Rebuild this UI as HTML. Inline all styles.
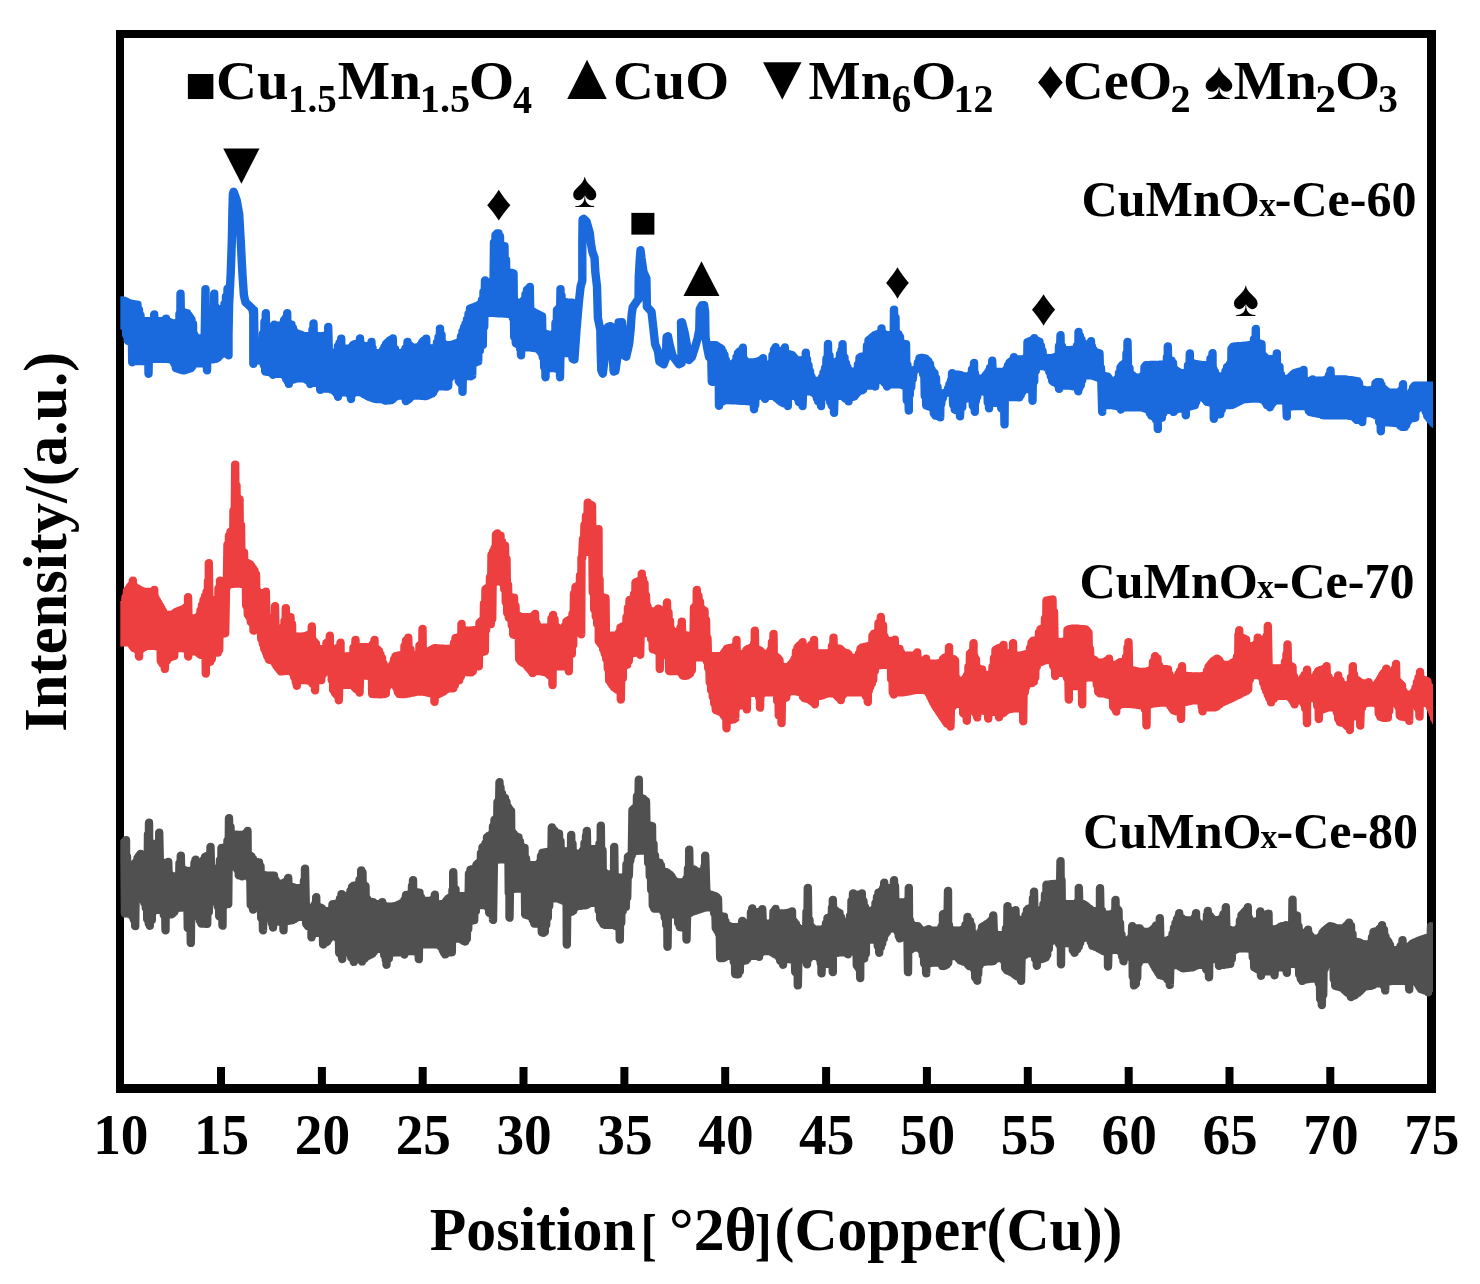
<!DOCTYPE html>
<html><head><meta charset="utf-8"><title>XRD patterns</title>
<style>
html,body{margin:0;padding:0;background:#fff}
svg{display:block}
text{font-family:"Liberation Serif",serif;font-weight:bold;fill:#000}
</style></head><body>
<svg width="1480" height="1284" viewBox="0 0 1480 1284">
<rect x="0" y="0" width="1480" height="1284" fill="#fff"/>
<g fill="#000"><rect x="116" y="30" width="8" height="1063"/><rect x="116" y="30" width="1320" height="8"/><rect x="1427" y="30" width="9" height="1063"/><rect x="116" y="1084" width="1320" height="9"/><rect x="217.0" y="1067" width="8" height="18"/><rect x="317.9" y="1067" width="8" height="18"/><rect x="418.7" y="1067" width="8" height="18"/><rect x="519.5" y="1067" width="8" height="18"/><rect x="620.4" y="1067" width="8" height="18"/><rect x="721.2" y="1067" width="8" height="18"/><rect x="822.1" y="1067" width="8" height="18"/><rect x="922.9" y="1067" width="8" height="18"/><rect x="1023.8" y="1067" width="8" height="18"/><rect x="1124.7" y="1067" width="8" height="18"/><rect x="1225.5" y="1067" width="8" height="18"/><rect x="1326.3" y="1067" width="8" height="18"/></g>
<g text-anchor="middle" font-size="100"><text transform="translate(120.8 1154) scale(0.553 0.568)">10</text><text transform="translate(221.6 1154) scale(0.553 0.568)">15</text><text transform="translate(322.5 1154) scale(0.553 0.568)">20</text><text transform="translate(423.3 1154) scale(0.553 0.568)">25</text><text transform="translate(524.1 1154) scale(0.553 0.568)">30</text><text transform="translate(625.0 1154) scale(0.553 0.568)">35</text><text transform="translate(725.9 1154) scale(0.553 0.568)">40</text><text transform="translate(826.7 1154) scale(0.553 0.568)">45</text><text transform="translate(927.5 1154) scale(0.553 0.568)">50</text><text transform="translate(1028.4 1154) scale(0.553 0.568)">55</text><text transform="translate(1129.2 1154) scale(0.553 0.568)">60</text><text transform="translate(1230.1 1154) scale(0.553 0.568)">65</text><text transform="translate(1330.9 1154) scale(0.553 0.568)">70</text><text transform="translate(1431.8 1154) scale(0.553 0.568)">75</text></g>
<text transform="translate(429.80 1249.60) scale(0.5979 0.6050)" font-size="100" xml:space="preserve">Position</text><text transform="translate(640.75 1253.50) scale(0.4783 0.5695)" font-size="100">[</text><text transform="translate(669.12 1249.60) scale(0.6165 0.6050)" font-size="100" xml:space="preserve">°2θ</text><text transform="translate(754.86 1253.50) scale(0.5091 0.5695)" font-size="100">]</text><text transform="translate(774.51 1249.60) scale(0.5967 0.6050)" font-size="100" xml:space="preserve">(Copper(Cu))</text>
<text transform="translate(66.2 731.72) rotate(-90) scale(0.6053 0.612)" font-size="100">Intensity/(a.u.)</text>
<g><text transform="translate(216.06 98.90) scale(0.5675 0.5500)" font-size="100" xml:space="preserve">Cu</text><text transform="translate(287.97 112.20) scale(0.3912 0.4050)" font-size="100" xml:space="preserve">1.5</text><text transform="translate(337.69 98.90) scale(0.5544 0.5500)" font-size="100" xml:space="preserve">Mn</text><text transform="translate(419.78 112.20) scale(0.4027 0.4050)" font-size="100" xml:space="preserve">1.5</text><text transform="translate(468.67 98.90) scale(0.5853 0.5500)" font-size="100" xml:space="preserve">O</text><text transform="translate(513.12 112.70) scale(0.3809 0.4050)" font-size="100" xml:space="preserve">4</text><text transform="translate(613.08 98.90) scale(0.5643 0.5500)" font-size="100" xml:space="preserve">CuO</text><text transform="translate(808.60 98.90) scale(0.5517 0.5500)" font-size="100" xml:space="preserve">Mn</text><text transform="translate(891.83 112.20) scale(0.3886 0.4050)" font-size="100" xml:space="preserve">6</text><text transform="translate(910.89 98.90) scale(0.5824 0.5500)" font-size="100" xml:space="preserve">O</text><text transform="translate(953.61 112.20) scale(0.3989 0.4050)" font-size="100" xml:space="preserve">12</text><text transform="translate(1063.09 98.90) scale(0.5620 0.5500)" font-size="100" xml:space="preserve">CeO</text><text transform="translate(1170.39 112.20) scale(0.4024 0.4050)" font-size="100" xml:space="preserve">2</text><text transform="translate(1233.79 98.90) scale(0.5531 0.5500)" font-size="100" xml:space="preserve">Mn</text><text transform="translate(1315.22 112.20) scale(0.4190 0.4050)" font-size="100" xml:space="preserve">2</text><text transform="translate(1334.90 98.90) scale(0.5809 0.5500)" font-size="100" xml:space="preserve">O</text><text transform="translate(1378.13 112.20) scale(0.3930 0.4050)" font-size="100" xml:space="preserve">3</text></g>
<g><text transform="translate(1081.39 215.90) scale(0.5020 0.5030)" font-size="100" xml:space="preserve">CuMnO</text><text transform="translate(1258.90 216.10) scale(0.3367 0.3400)" font-size="100" xml:space="preserve">x</text><text transform="translate(1274.80 215.90) scale(0.5000 0.5030)" font-size="100" xml:space="preserve">-Ce-60</text></g>
<g><text transform="translate(1079.39 597.90) scale(0.5020 0.5030)" font-size="100" xml:space="preserve">CuMnO</text><text transform="translate(1256.90 598.10) scale(0.3367 0.3400)" font-size="100" xml:space="preserve">x</text><text transform="translate(1272.80 597.90) scale(0.5000 0.5030)" font-size="100" xml:space="preserve">-Ce-70</text></g>
<g><text transform="translate(1083.09 847.90) scale(0.5020 0.5030)" font-size="100" xml:space="preserve">CuMnO</text><text transform="translate(1260.60 848.10) scale(0.3367 0.3400)" font-size="100" xml:space="preserve">x</text><text transform="translate(1276.50 847.90) scale(0.5000 0.5030)" font-size="100" xml:space="preserve">-Ce-80</text></g>
<g><text transform="translate(184.64 102.01) scale(0.5271 0.5177)" font-size="100" font-weight="normal">■</text><text transform="translate(553.58 98.90) scale(0.6772 0.6707)" font-size="100" font-weight="normal">▲</text><text transform="translate(749.78 98.66) scale(0.6579 0.6448)" font-size="100" font-weight="normal">▼</text><text transform="translate(1036.14 98.37) scale(0.5545 0.5333)" font-size="100" font-weight="normal">♦</text><text transform="translate(1204.01 98.90) scale(0.5638 0.5424)" font-size="100" font-weight="normal">♠</text><text transform="translate(210.79 183.40) scale(0.6193 0.6017)" font-size="100" font-weight="normal">▼</text><text transform="translate(485.53 220.00) scale(0.5227 0.5050)" font-size="100" font-weight="normal">♦</text><text transform="translate(571.73 206.80) scale(0.4894 0.5068)" font-size="100" font-weight="normal">♠</text><text transform="translate(628.24 236.70) scale(0.4771 0.4500)" font-size="100" font-weight="normal">■</text><text transform="translate(671.07 295.90) scale(0.6158 0.5948)" font-size="100" font-weight="normal">▲</text><text transform="translate(884.47 298.38) scale(0.5114 0.5167)" font-size="100" font-weight="normal">♦</text><text transform="translate(1030.33 325.48) scale(0.5227 0.5167)" font-size="100" font-weight="normal">♦</text><text transform="translate(1232.40 316.10) scale(0.5000 0.5136)" font-size="100" font-weight="normal">♠</text></g>
<clipPath id="cp"><rect x="120.3" y="38" width="1312.7" height="1046"/></clipPath>
<polyline clip-path="url(#cp)" fill="none" stroke="#505050" stroke-width="8.4" stroke-linejoin="round" stroke-linecap="round" points="124.0,842.2 124.8,913.4 126.0,840.1 126.2,913.4 127.0,856.7 127.8,913.5 128.5,865.0 129.2,913.8 130.0,865.0 130.8,914.1 131.5,865.0 132.2,916.2 133.0,865.0 133.8,919.7 134.5,865.0 135.2,926.1 136.0,861.9 136.8,898.5 137.5,858.1 138.2,898.5 139.0,855.7 139.8,898.5 140.5,853.9 141.2,898.5 142.0,856.1 142.8,898.5 143.5,856.1 144.2,902.7 145.0,856.1 145.8,908.1 146.5,856.1 147.2,919.3 148.0,834.2 148.8,923.7 149.0,822.8 149.8,925.7 151.0,844.0 151.8,919.9 152.5,844.0 153.2,911.6 154.0,844.0 154.8,909.8 155.5,844.0 156.2,909.8 157.0,844.0 157.8,909.8 158.5,842.6 159.2,909.8 159.2,832.7 160.8,909.8 161.5,862.9 162.2,910.5 163.0,862.9 163.8,915.0 164.5,862.9 165.5,930.2 166.0,862.9 166.8,914.3 167.5,864.3 168.2,914.3 168.2,861.9 169.8,914.3 170.5,875.1 171.2,914.3 172.0,876.4 172.8,913.2 173.5,876.4 174.2,912.0 175.0,876.4 175.8,909.1 176.5,876.4 177.2,907.5 178.0,875.3 178.8,907.5 179.5,863.1 180.2,907.5 180.8,855.8 181.8,907.5 182.5,869.1 183.2,907.5 184.0,870.0 184.8,907.8 185.5,870.9 186.2,908.3 187.0,871.0 187.8,928.1 188.5,871.0 189.2,928.1 190.0,871.0 190.8,942.9 191.5,871.0 192.2,914.7 193.0,869.5 193.8,914.7 194.5,862.8 195.2,914.7 195.5,859.7 196.8,914.7 197.5,862.8 198.2,916.7 199.0,862.8 199.8,920.7 200.5,862.8 201.2,923.5 202.0,862.8 202.8,923.6 203.5,859.9 204.2,923.6 205.0,856.9 205.8,923.7 206.5,856.1 207.2,923.7 208.0,855.4 208.8,912.0 209.5,855.4 210.2,901.4 210.5,847.0 211.8,901.4 212.5,869.0 213.2,901.4 214.0,869.0 214.8,901.4 215.5,869.0 216.2,901.4 217.0,869.0 217.8,906.6 218.5,869.0 219.2,916.2 220.0,860.1 220.8,916.2 221.5,848.0 222.5,925.6 223.0,847.7 223.8,904.7 224.5,847.4 225.2,904.5 226.0,847.1 226.8,904.2 227.5,840.4 228.2,904.0 229.0,818.2 229.8,866.4 230.5,827.1 231.2,866.4 232.0,834.3 232.8,866.4 233.5,834.5 234.2,866.4 235.0,834.7 235.8,866.4 236.5,834.8 237.2,869.4 238.0,834.9 238.8,875.3 239.5,834.9 240.2,875.3 241.0,834.9 242.0,876.4 242.5,834.9 243.2,874.1 244.0,834.9 244.8,874.1 245.5,833.8 246.2,874.1 247.5,831.0 247.8,874.1 248.5,855.0 249.2,877.9 250.0,855.8 250.8,905.1 251.5,856.7 252.2,905.1 253.0,859.0 253.0,909.5 254.5,861.9 255.2,902.9 256.0,862.1 256.8,902.9 257.5,862.2 258.2,902.9 259.0,862.4 259.8,902.9 260.5,866.5 261.2,917.9 262.0,874.6 263.0,930.2 263.5,874.9 264.2,916.8 265.0,875.2 265.8,916.8 266.5,875.5 267.2,916.8 268.0,875.6 268.8,916.8 269.5,875.6 270.2,919.0 271.0,875.6 271.8,923.5 272.5,875.6 273.0,927.5 274.0,875.6 274.8,921.5 275.5,880.2 276.2,921.5 277.0,883.7 277.8,921.5 278.5,883.7 279.2,921.5 280.0,883.7 280.8,921.5 281.5,883.7 282.2,921.5 283.0,883.7 283.5,930.3 284.5,882.4 285.2,921.0 286.0,881.5 286.8,920.9 287.5,883.2 288.2,920.7 288.2,878.0 289.8,920.5 290.5,886.6 291.2,920.3 292.0,887.0 292.8,920.0 293.5,887.5 294.2,919.1 295.0,887.9 295.8,918.2 296.5,888.2 297.2,917.3 298.0,888.2 298.8,916.7 299.5,888.2 300.2,916.7 301.0,888.2 301.8,916.7 302.5,888.2 303.2,916.7 304.0,880.5 304.8,916.7 305.0,868.8 306.2,924.0 307.0,908.3 307.8,926.1 308.5,908.3 309.2,926.5 310.0,908.3 310.8,926.9 311.5,908.3 311.5,937.3 313.0,908.3 313.8,933.6 314.5,904.7 315.2,932.9 316.2,897.2 316.8,932.9 317.5,906.8 318.2,932.9 319.0,907.2 319.8,932.9 320.5,907.6 321.2,932.9 322.0,908.8 323.2,944.5 323.5,911.1 324.2,943.2 325.0,911.1 325.8,942.5 326.5,911.1 327.2,941.5 328.0,911.1 328.8,939.0 329.5,911.1 330.2,936.5 331.0,909.5 331.8,936.3 332.5,904.3 333.2,936.3 334.0,904.0 334.8,936.3 335.5,903.7 336.2,936.3 337.0,903.5 337.8,938.6 338.5,903.2 339.2,952.9 340.0,898.4 340.8,954.5 341.5,894.1 342.2,959.0 343.0,897.3 343.8,951.2 344.5,897.3 345.2,951.2 346.0,897.3 346.8,951.2 347.5,897.3 348.2,951.2 349.0,894.5 349.8,953.8 350.5,890.8 351.2,957.6 352.0,887.0 352.8,955.9 353.5,885.8 353.8,961.9 355.0,885.5 355.8,951.3 356.5,885.2 357.2,951.3 358.0,885.0 358.8,951.3 359.5,879.7 360.2,951.3 361.2,870.5 362.0,961.4 362.5,872.6 363.2,959.4 364.0,885.0 364.8,958.2 365.5,886.5 366.2,956.7 367.0,898.9 367.8,956.0 368.5,902.0 369.2,955.2 370.0,902.0 370.8,954.5 371.5,902.0 372.2,953.7 373.0,902.1 373.8,951.8 374.5,903.6 375.2,948.8 376.0,904.3 376.8,948.8 377.5,904.3 378.2,948.8 379.0,904.3 379.8,948.8 380.5,904.3 381.2,948.8 382.2,902.1 382.8,950.3 383.5,905.2 384.2,955.3 385.0,906.2 385.8,960.3 386.5,906.6 386.5,964.7 388.0,906.6 388.8,958.4 389.5,906.6 390.2,953.2 391.0,906.6 391.8,952.9 392.5,906.6 393.2,952.6 394.0,906.3 394.8,952.2 395.5,905.9 396.2,952.2 397.0,905.5 397.8,952.2 398.5,904.8 399.2,952.2 400.0,904.1 400.8,952.2 401.5,903.3 402.2,952.6 403.0,902.6 404.2,954.5 404.5,899.7 405.2,952.6 406.0,895.0 406.8,951.1 407.5,894.7 408.2,951.1 409.0,894.4 409.8,951.1 410.5,894.1 411.2,951.1 412.0,885.7 412.8,951.1 413.0,880.3 414.2,951.3 415.0,891.9 415.8,951.7 416.5,892.2 417.2,952.1 418.0,892.5 418.8,959.1 419.5,892.7 420.2,944.2 421.0,897.4 421.8,944.2 422.5,900.9 423.2,944.2 424.0,900.9 424.8,944.2 425.5,900.9 426.2,944.2 427.0,900.9 427.8,944.2 428.5,900.9 429.2,944.2 430.0,900.6 430.8,944.2 431.5,900.3 432.2,944.2 433.0,900.0 433.8,944.2 434.8,894.8 435.2,944.2 436.0,903.2 436.8,944.2 437.5,904.3 438.2,944.8 439.0,904.3 439.8,945.9 440.5,904.3 441.2,947.1 442.0,904.3 442.8,950.5 443.5,904.3 444.2,953.1 445.0,902.5 445.2,954.4 446.5,900.6 447.2,952.2 448.0,898.7 448.8,952.2 449.5,897.8 450.2,952.2 451.0,897.0 451.8,952.2 452.5,889.9 453.2,938.6 453.2,872.2 454.8,938.6 455.5,889.5 456.2,938.6 457.0,896.3 457.8,938.6 458.5,896.3 459.2,938.6 460.0,896.3 460.8,938.9 461.5,896.3 462.2,939.9 463.0,896.3 463.8,940.9 464.5,896.1 465.2,941.5 466.0,895.6 466.8,938.8 467.5,895.2 468.2,929.0 469.0,873.5 469.8,921.5 470.5,869.6 471.2,920.8 472.0,869.3 472.8,920.5 473.5,868.9 474.2,920.1 475.0,867.8 475.8,911.3 476.5,864.8 477.2,905.1 478.0,863.3 478.8,905.1 479.5,862.3 480.2,905.1 481.0,852.9 481.8,905.1 482.5,847.3 483.2,905.1 484.0,846.3 484.8,905.1 485.5,843.2 486.2,905.1 487.0,837.2 487.8,907.5 488.5,836.0 489.2,912.7 490.0,835.3 490.8,912.7 491.5,834.6 492.2,880.5 493.0,826.3 493.0,919.9 494.5,819.7 495.2,860.1 496.0,818.5 496.8,859.8 497.5,801.9 498.2,859.6 499.5,782.3 499.8,859.3 500.5,787.7 501.2,859.2 502.0,793.7 502.8,859.2 503.5,797.1 504.2,859.2 505.0,798.3 505.8,859.2 506.5,802.3 507.2,859.2 508.0,807.3 508.8,893.3 509.5,809.4 509.5,917.6 511.0,811.1 511.8,888.9 512.5,832.7 513.2,888.8 514.0,834.5 514.8,888.7 515.5,836.3 516.2,888.6 517.0,837.0 517.8,888.6 518.5,837.5 519.2,888.6 520.0,841.7 520.8,888.6 521.5,847.0 522.2,888.6 523.0,847.5 523.8,888.6 524.5,847.9 525.2,914.4 526.0,858.6 526.8,914.9 527.5,864.3 528.2,915.4 529.0,864.7 529.8,915.9 530.5,865.0 531.2,916.4 532.0,865.3 532.8,920.1 533.5,865.3 534.2,923.5 535.0,865.3 535.8,923.5 536.5,865.3 537.2,923.5 538.0,865.3 538.8,923.5 539.5,862.5 540.2,924.8 541.0,856.1 541.8,932.3 542.5,852.6 543.2,932.7 544.0,852.4 544.8,931.8 545.5,852.1 546.2,924.6 547.0,851.9 547.8,917.4 548.5,851.7 549.2,906.0 550.0,851.5 550.8,898.2 551.8,827.5 552.2,898.2 553.0,829.5 553.8,898.2 554.5,830.9 555.2,898.2 556.0,832.7 556.8,898.2 557.5,833.3 558.2,898.6 559.0,833.8 559.8,899.2 560.5,841.4 561.2,899.8 562.0,850.8 562.8,900.4 563.5,851.5 564.2,901.0 565.0,851.5 565.8,901.5 566.5,851.5 566.8,944.5 568.0,851.5 568.8,912.8 569.5,851.5 570.2,912.1 571.2,835.0 571.8,911.5 572.5,844.0 573.2,910.7 574.0,853.6 574.8,907.7 575.5,853.6 576.2,906.2 577.0,853.6 577.8,906.0 578.5,853.6 579.2,905.9 580.0,853.6 580.8,905.7 581.5,852.8 582.2,905.5 583.0,850.3 583.8,905.4 584.5,843.0 585.2,905.2 586.0,835.8 586.8,904.7 586.8,830.9 588.2,903.9 589.0,849.2 589.8,903.2 590.5,849.2 591.2,902.9 592.0,849.2 592.8,902.9 593.5,849.2 594.2,902.9 595.0,849.2 595.8,902.9 596.5,849.2 597.2,902.9 598.0,849.2 598.8,910.6 599.5,843.4 600.2,919.0 600.8,825.8 601.8,921.5 602.5,850.5 603.2,924.0 604.0,872.1 604.8,924.8 605.5,873.8 606.2,924.7 607.0,874.4 607.8,924.7 608.5,874.4 609.2,924.7 610.0,874.4 610.8,924.7 611.5,874.4 612.2,924.7 613.0,874.4 613.8,924.8 614.2,847.0 615.2,925.7 616.0,876.9 616.8,926.6 617.5,877.7 618.2,927.5 619.0,877.8 619.8,939.6 620.5,877.8 621.2,922.7 622.0,877.8 622.8,910.9 623.5,877.8 624.2,907.8 625.0,877.8 625.8,906.9 626.5,864.3 627.2,897.5 628.0,856.8 628.8,875.6 629.5,855.8 630.2,860.6 631.0,855.1 631.8,855.1 632.5,810.0 633.2,852.5 634.0,808.6 634.8,851.1 635.5,807.2 636.2,850.9 637.0,796.3 637.8,850.7 638.8,779.8 639.2,850.5 640.0,797.6 640.8,850.5 641.5,798.2 642.2,850.5 643.0,798.8 643.8,850.5 644.5,800.2 645.2,850.5 646.0,801.5 646.8,850.5 647.5,825.1 648.2,863.1 649.0,825.4 649.8,876.4 650.5,825.8 651.2,889.9 652.0,826.1 652.8,905.7 653.5,844.1 654.2,908.6 655.0,855.6 655.8,908.6 656.5,862.0 657.2,908.6 658.0,862.4 658.8,908.6 659.5,862.7 660.2,908.6 661.0,865.6 661.8,908.6 662.5,871.1 663.2,911.7 664.0,871.6 664.8,917.8 665.5,872.0 666.2,925.1 667.0,872.8 667.5,946.8 668.5,873.9 669.2,914.4 670.0,875.0 670.8,914.4 671.5,876.7 672.2,914.4 673.0,879.2 673.8,914.4 674.5,881.4 675.2,914.7 676.0,881.8 676.8,915.8 677.5,882.2 678.2,923.3 679.0,882.5 679.8,927.1 680.5,882.5 681.2,927.3 682.0,882.5 682.8,927.6 683.5,882.5 684.2,927.8 685.0,882.5 685.8,928.0 686.5,878.4 686.5,939.6 688.0,868.6 688.8,913.8 689.2,849.7 690.2,912.8 691.0,868.9 691.8,911.9 692.5,869.3 693.2,911.4 694.0,869.6 694.8,910.9 695.5,871.0 696.2,910.4 697.0,872.0 697.8,909.9 698.5,872.0 699.2,909.4 700.0,872.0 700.8,908.9 701.5,872.0 702.2,908.4 703.0,872.0 703.8,907.9 704.5,866.3 705.2,907.4 705.2,855.7 706.8,907.4 707.5,892.9 708.2,907.4 709.0,894.4 709.8,907.4 710.5,894.8 711.2,907.4 712.0,895.3 712.8,908.6 713.5,895.7 714.2,913.3 715.0,896.1 715.8,928.1 716.5,897.3 717.2,930.4 718.0,899.0 718.8,933.6 719.5,915.3 720.2,958.0 721.0,916.1 721.8,958.1 722.5,916.5 723.2,958.1 724.0,916.8 724.8,957.1 725.5,921.8 726.2,955.9 727.0,925.4 727.8,955.9 728.5,925.9 729.2,955.9 730.0,926.4 730.8,955.9 731.5,926.9 732.2,955.9 733.0,927.3 733.8,962.0 734.5,927.3 735.2,974.0 736.0,927.3 736.8,974.2 737.5,927.3 738.2,974.3 739.0,927.3 739.8,971.2 740.5,925.7 741.2,961.3 742.2,921.0 742.8,961.0 743.5,924.9 744.2,960.7 745.0,924.9 745.8,960.4 746.5,924.9 747.2,959.0 748.0,924.9 748.8,956.0 749.5,922.0 750.2,955.7 751.0,912.3 751.8,955.7 752.2,908.5 753.2,955.7 754.0,912.3 754.8,955.7 755.5,912.3 756.2,955.7 757.0,912.3 757.8,955.2 758.5,912.3 759.0,956.8 760.0,912.0 760.8,952.7 761.5,912.3 762.2,951.5 762.2,909.1 763.8,951.1 764.5,923.4 765.2,951.1 766.0,923.8 766.8,951.1 767.5,923.8 768.2,951.1 769.0,923.8 769.8,951.1 770.5,923.8 771.2,952.0 772.0,923.8 772.8,952.9 773.5,911.7 774.2,953.7 775.5,909.0 775.8,954.5 776.5,913.2 777.2,955.2 778.0,913.5 778.8,957.2 779.5,913.5 780.2,960.7 781.0,913.5 781.8,961.6 782.5,913.5 783.0,964.7 784.0,913.5 784.8,959.1 785.5,913.2 786.2,959.1 787.0,913.0 787.8,959.1 788.5,912.7 789.2,959.1 790.0,912.7 790.8,959.1 792.0,911.4 792.2,959.7 793.0,920.5 793.8,960.8 794.5,922.5 795.2,972.0 796.0,924.5 796.8,959.2 797.5,927.3 797.8,985.4 799.0,929.3 799.8,958.3 800.5,929.3 801.2,958.3 802.0,929.3 802.8,958.3 803.5,929.3 804.2,958.8 805.0,929.3 805.8,960.8 806.5,911.8 807.0,964.3 807.8,887.9 808.8,958.3 809.5,920.3 810.2,957.0 811.0,926.6 811.8,955.8 812.5,928.3 813.2,955.8 814.0,929.6 814.8,955.8 815.5,929.6 816.2,955.8 817.0,929.6 817.8,955.8 818.5,929.6 819.2,958.5 820.0,929.6 820.8,963.7 821.5,929.4 821.5,973.4 823.0,929.0 823.8,963.7 824.5,928.6 825.2,963.7 826.0,923.2 826.8,963.7 827.5,917.9 828.2,963.7 829.0,917.5 829.8,964.3 830.5,917.1 831.2,964.5 832.0,907.6 832.8,972.1 832.8,899.9 834.2,953.5 835.0,910.2 835.8,953.1 836.5,911.8 837.2,952.8 838.0,912.5 838.8,952.5 839.5,913.3 840.2,952.2 841.0,917.5 841.8,952.2 842.5,922.5 843.2,952.2 844.0,922.5 844.8,952.2 845.5,922.5 846.2,952.2 847.0,922.5 847.8,954.3 848.5,922.5 849.2,951.1 850.0,915.8 850.8,951.1 851.5,900.8 852.2,951.1 853.0,893.4 853.8,951.1 854.5,894.7 855.2,952.7 856.0,894.7 856.8,965.4 857.5,894.7 858.2,967.5 859.0,894.7 860.2,978.0 860.5,894.7 861.2,958.9 861.8,893.4 862.8,958.7 863.5,901.5 864.2,958.5 865.0,907.1 865.8,953.6 866.5,911.0 867.2,939.6 868.0,911.0 868.8,939.6 869.5,911.0 870.2,939.6 871.0,911.0 871.8,939.6 872.5,911.0 873.2,939.6 874.0,909.0 874.8,939.8 875.5,903.0 876.2,940.5 877.0,897.0 877.8,946.2 878.5,892.6 879.2,952.8 880.0,891.9 880.8,947.3 881.5,891.1 882.2,943.5 883.0,888.3 883.8,938.5 884.2,882.7 885.2,934.3 886.0,888.2 886.8,932.1 887.5,888.2 888.2,929.8 889.0,888.2 889.8,928.3 890.5,888.2 891.2,928.3 892.0,887.9 892.8,928.3 894.0,880.3 894.2,928.3 895.0,886.3 895.8,928.3 896.5,902.1 897.2,931.1 898.0,902.3 898.8,936.2 899.5,902.5 899.8,938.4 901.0,902.5 901.8,937.3 902.5,902.5 903.2,937.3 904.0,902.5 904.8,937.3 905.5,902.5 906.2,937.3 907.0,900.7 908.0,972.1 908.8,887.9 909.2,950.2 910.0,920.4 910.8,949.3 911.5,924.1 912.2,948.4 913.0,925.6 913.8,947.6 914.5,926.2 915.2,947.6 916.0,926.2 916.8,947.6 917.5,926.2 918.2,947.6 919.0,927.9 919.8,947.6 920.5,930.7 921.2,950.2 922.0,930.7 922.8,955.4 923.5,930.7 924.2,963.6 925.0,930.7 926.2,973.4 926.5,930.7 927.2,963.4 928.5,929.2 928.8,963.2 929.5,930.7 930.2,963.0 931.0,930.8 931.8,962.7 932.5,930.8 933.2,962.6 934.0,930.8 934.8,962.6 935.5,930.8 936.2,962.6 937.0,930.8 937.8,962.6 938.5,930.8 939.2,962.6 940.0,930.8 940.8,963.6 941.5,926.6 942.2,965.9 943.0,914.3 943.8,966.0 944.5,913.6 945.2,965.5 946.0,912.8 946.8,964.5 948.0,891.0 948.2,962.6 949.0,925.3 949.8,956.0 950.5,929.9 951.2,956.0 952.0,930.3 952.8,956.0 953.5,930.7 954.2,956.0 955.0,930.7 955.8,956.0 956.5,930.7 957.2,956.4 958.0,930.7 958.8,958.9 959.5,930.7 960.2,960.5 961.0,930.6 961.8,961.0 962.5,929.6 963.2,961.5 964.0,928.6 964.8,962.0 965.5,924.9 966.2,962.5 967.5,917.0 967.8,964.5 968.5,920.8 969.2,966.1 970.0,921.2 970.8,966.3 971.5,925.6 972.2,966.5 973.0,935.0 973.8,968.9 974.5,935.0 975.2,977.4 976.0,935.0 977.2,980.8 977.5,935.0 978.2,973.9 979.0,935.0 979.8,964.9 980.5,931.8 981.2,962.4 982.0,927.0 982.8,962.1 983.5,926.1 984.2,961.9 985.0,925.2 985.8,961.6 986.5,924.3 987.2,961.4 988.0,923.3 988.8,961.4 989.5,922.3 990.2,961.4 991.0,920.6 991.8,961.4 992.5,918.9 993.2,960.9 993.2,915.5 994.8,959.4 995.5,934.3 996.2,958.1 997.0,934.8 997.8,958.1 998.5,935.3 999.2,958.1 1000.0,935.3 1000.8,958.1 1001.5,935.3 1002.2,958.1 1003.0,935.3 1003.8,960.6 1004.5,935.3 1005.2,968.1 1006.0,928.3 1006.8,970.1 1007.5,906.3 1008.2,970.8 1009.0,911.2 1009.8,971.6 1010.5,911.2 1011.2,972.3 1012.0,911.2 1012.8,973.1 1013.5,911.3 1014.2,974.3 1015.5,910.2 1015.8,975.4 1016.5,918.0 1017.2,976.3 1018.0,920.1 1018.8,974.0 1019.5,920.1 1020.2,959.0 1021.0,920.1 1021.0,980.8 1022.5,920.1 1023.2,956.0 1024.0,920.1 1024.8,955.0 1025.5,915.1 1026.2,954.0 1027.0,910.1 1027.8,953.4 1028.5,908.6 1029.2,953.4 1030.0,908.3 1030.8,953.4 1031.5,907.9 1032.2,953.4 1033.0,898.1 1033.8,953.4 1034.0,891.8 1035.2,959.1 1036.0,910.8 1036.8,965.8 1037.5,910.8 1038.2,959.1 1039.0,910.8 1039.8,959.1 1040.5,910.8 1041.2,959.1 1042.0,910.8 1042.8,958.8 1043.5,903.9 1044.2,958.1 1045.0,894.6 1045.8,957.3 1046.5,884.8 1047.2,954.8 1048.0,884.6 1048.8,948.6 1049.5,884.5 1050.2,942.3 1051.0,884.3 1051.8,940.2 1052.5,884.1 1053.2,940.2 1054.0,884.0 1054.8,940.2 1055.5,883.9 1056.2,940.2 1057.0,883.8 1057.8,940.2 1058.5,883.7 1059.2,944.5 1060.5,861.2 1061.0,964.2 1061.5,880.2 1062.2,943.1 1063.0,903.2 1063.8,943.1 1064.5,903.6 1065.2,943.1 1066.0,904.0 1066.8,943.1 1067.5,904.3 1068.2,943.2 1069.0,904.3 1069.8,943.5 1070.5,904.3 1071.2,944.6 1072.0,904.3 1072.8,950.2 1073.5,904.3 1074.5,952.8 1075.0,904.2 1075.8,950.2 1076.5,903.7 1077.2,949.2 1078.0,901.0 1078.8,946.4 1078.8,887.9 1080.2,942.6 1081.0,903.5 1081.8,938.9 1082.5,904.0 1083.2,937.6 1084.0,904.7 1084.8,937.6 1085.5,905.8 1086.2,937.6 1087.0,906.9 1087.8,937.6 1088.5,908.1 1089.2,937.6 1090.0,909.3 1090.8,942.1 1091.5,910.6 1092.2,945.6 1093.0,911.2 1093.8,946.2 1094.5,911.2 1095.2,946.8 1096.0,911.2 1096.8,947.4 1097.5,911.2 1098.2,948.1 1099.0,911.2 1099.8,948.9 1100.0,888.3 1101.2,949.8 1102.0,910.9 1102.8,950.6 1103.5,914.7 1104.2,951.3 1105.0,914.7 1105.8,951.8 1106.5,914.7 1107.2,952.0 1108.0,914.7 1108.0,966.5 1109.5,914.6 1110.2,950.6 1111.0,914.2 1111.8,950.2 1112.5,913.9 1113.2,949.9 1114.0,912.2 1114.8,949.9 1115.5,899.9 1116.2,949.9 1117.0,908.9 1117.8,949.9 1118.5,910.6 1119.2,949.9 1120.0,923.2 1120.8,952.4 1121.5,934.7 1122.2,956.6 1123.0,940.6 1123.5,961.3 1124.5,940.6 1125.2,955.8 1126.0,940.6 1126.8,955.8 1127.5,940.6 1128.2,955.8 1129.0,940.6 1129.8,955.8 1130.5,937.9 1131.2,957.9 1132.2,926.2 1132.8,976.7 1133.5,928.5 1134.0,985.4 1135.0,928.5 1135.8,983.6 1136.5,928.5 1137.2,977.8 1138.0,928.5 1138.8,962.8 1139.5,928.5 1140.2,959.9 1141.0,930.2 1141.8,959.6 1142.5,931.9 1143.2,959.2 1144.0,931.9 1144.8,959.1 1145.5,931.9 1146.2,959.1 1147.0,931.9 1147.8,959.1 1148.5,931.9 1149.2,959.1 1150.0,931.5 1150.8,959.4 1151.5,930.4 1152.2,962.4 1153.0,929.2 1153.8,965.4 1154.5,927.7 1155.2,967.9 1156.0,925.5 1156.8,970.3 1157.5,928.3 1158.2,972.7 1159.0,941.0 1159.8,975.1 1159.8,918.3 1161.2,975.5 1162.0,941.0 1162.8,975.8 1163.5,941.0 1164.2,976.1 1165.0,941.0 1165.8,976.9 1166.5,940.7 1167.2,979.2 1168.0,940.1 1168.8,976.0 1169.5,939.5 1169.8,984.9 1171.0,938.9 1171.8,965.0 1172.5,933.9 1173.2,965.0 1174.0,927.9 1174.8,965.0 1175.5,922.9 1176.2,965.0 1177.0,918.9 1177.8,965.3 1178.5,916.3 1179.2,966.2 1179.2,913.1 1180.8,967.1 1181.5,918.1 1182.2,968.0 1183.0,919.4 1183.8,968.2 1184.5,919.9 1185.2,968.1 1186.0,920.4 1186.8,967.9 1187.5,920.4 1188.2,967.7 1189.0,920.4 1189.8,967.6 1190.5,920.4 1191.2,967.4 1192.0,920.4 1192.8,967.2 1193.5,919.1 1194.2,966.5 1195.0,917.1 1195.8,965.8 1196.0,913.2 1197.2,965.0 1198.0,922.8 1198.8,964.9 1199.5,924.9 1200.2,964.9 1201.0,924.9 1201.8,964.9 1202.5,924.9 1203.2,964.9 1204.0,924.9 1204.8,965.7 1205.5,924.9 1206.2,969.4 1207.0,915.0 1207.8,962.1 1207.8,910.9 1209.0,977.3 1210.0,916.3 1210.8,959.6 1211.5,918.3 1212.2,959.2 1213.0,919.8 1213.8,959.1 1214.5,920.3 1215.2,959.1 1216.0,920.3 1216.8,959.1 1217.5,920.3 1218.2,959.1 1219.0,920.3 1219.0,965.9 1220.5,920.3 1221.2,964.3 1222.0,917.4 1222.8,964.8 1223.5,914.0 1224.2,964.7 1225.0,913.5 1225.8,964.4 1225.8,907.2 1227.2,964.2 1228.0,929.1 1228.8,964.0 1229.5,929.9 1230.2,963.8 1231.0,930.7 1231.8,959.0 1232.5,930.7 1233.2,951.0 1234.0,930.7 1234.8,950.1 1235.5,930.7 1236.2,949.2 1237.0,930.7 1237.8,948.3 1238.5,927.7 1239.2,948.3 1240.0,920.2 1240.8,948.3 1241.5,915.1 1242.2,948.3 1243.0,913.5 1243.8,948.3 1244.5,911.8 1245.2,948.3 1246.0,910.4 1246.8,948.4 1247.8,907.3 1248.2,948.5 1249.0,918.3 1249.8,948.6 1250.5,920.9 1251.2,948.7 1252.0,921.5 1252.8,957.4 1253.5,921.6 1254.2,967.3 1255.0,921.6 1255.8,968.2 1256.5,921.6 1257.2,969.1 1258.0,921.6 1258.8,970.0 1259.5,919.1 1260.2,971.7 1260.2,911.4 1261.0,975.7 1262.5,914.7 1263.2,971.5 1264.0,914.7 1264.8,971.4 1265.5,914.7 1266.2,971.3 1267.0,916.0 1267.8,971.3 1268.5,913.6 1269.2,971.3 1270.0,929.5 1270.8,971.3 1271.5,929.5 1272.2,971.3 1273.0,929.5 1273.8,971.3 1274.5,929.5 1274.5,975.2 1276.0,929.5 1276.8,967.2 1277.5,928.6 1278.2,967.2 1279.0,927.7 1279.8,967.2 1280.5,926.8 1281.2,967.2 1282.0,926.1 1282.8,967.2 1283.5,926.1 1284.2,967.9 1285.0,927.2 1285.8,964.8 1285.8,925.1 1286.8,972.8 1288.0,927.2 1288.8,963.8 1289.5,927.2 1290.2,963.8 1291.0,927.2 1291.8,963.8 1292.5,899.7 1293.2,963.8 1294.0,914.8 1294.8,964.1 1295.5,915.2 1296.2,964.5 1297.0,915.7 1297.8,965.6 1298.5,926.4 1299.2,974.6 1300.0,933.0 1300.8,979.0 1301.5,933.0 1302.2,980.9 1303.0,933.0 1303.8,979.7 1304.5,933.0 1305.2,979.5 1306.0,933.0 1306.8,979.3 1308.0,929.7 1308.2,979.1 1309.0,934.2 1309.8,978.9 1310.5,936.2 1311.2,978.6 1312.0,938.2 1312.8,978.6 1313.5,938.7 1314.2,978.6 1315.0,938.7 1315.8,978.6 1316.5,938.7 1317.2,978.6 1318.0,938.7 1318.8,983.4 1319.5,938.7 1320.2,999.1 1321.0,935.7 1321.8,1005.0 1322.5,932.7 1323.2,994.6 1324.0,931.0 1324.8,968.4 1325.5,929.7 1326.2,964.0 1327.0,928.5 1327.8,964.0 1328.5,927.2 1329.2,964.0 1330.0,926.3 1330.8,964.0 1331.5,926.4 1332.2,964.2 1333.0,927.0 1333.8,979.2 1334.5,927.6 1335.2,985.8 1336.0,928.2 1336.8,986.2 1337.5,928.4 1338.2,986.6 1339.0,928.4 1339.8,987.1 1340.5,928.4 1341.2,987.5 1342.0,928.4 1342.8,988.2 1343.5,928.4 1344.2,989.7 1345.0,927.0 1345.8,991.2 1346.5,925.5 1347.2,992.6 1348.0,924.7 1348.8,993.6 1349.0,922.8 1350.8,997.0 1351.0,925.9 1351.8,995.6 1352.5,934.3 1353.2,995.9 1354.0,941.2 1354.8,995.2 1355.5,941.6 1356.2,994.0 1357.0,941.9 1357.8,992.9 1358.5,942.3 1359.2,991.6 1360.0,943.0 1360.8,990.1 1361.5,943.8 1362.2,988.6 1363.0,944.5 1363.8,987.1 1364.5,944.5 1365.2,986.5 1366.0,944.5 1366.8,986.3 1367.5,944.5 1368.2,986.1 1369.0,944.5 1369.8,985.9 1370.5,942.7 1371.2,985.7 1372.0,937.2 1372.8,985.1 1373.5,931.9 1374.2,984.1 1375.0,931.5 1375.8,983.3 1376.5,931.1 1377.2,983.3 1378.0,930.8 1378.8,983.3 1379.5,928.8 1380.2,983.3 1381.0,927.4 1381.8,983.3 1382.0,925.2 1383.2,985.1 1384.0,930.0 1385.2,990.4 1385.5,936.7 1386.2,981.9 1387.0,940.2 1387.8,981.7 1388.5,942.2 1389.2,981.4 1390.0,945.2 1390.8,981.1 1391.5,949.7 1392.2,980.9 1393.0,950.1 1393.8,980.9 1394.5,950.1 1395.2,980.9 1396.0,950.1 1396.8,980.9 1397.5,950.1 1398.2,980.9 1399.0,949.4 1399.8,980.9 1400.5,946.0 1401.2,980.9 1402.5,940.1 1402.8,980.9 1403.5,946.7 1404.2,980.9 1405.0,946.7 1405.8,980.9 1406.5,946.7 1407.2,981.6 1408.0,946.7 1409.2,989.5 1409.5,946.4 1410.2,981.1 1411.0,944.9 1411.8,981.1 1412.5,943.4 1413.2,981.1 1414.0,942.7 1414.8,981.1 1415.5,942.1 1416.2,981.5 1417.0,941.5 1417.8,984.1 1418.5,940.8 1419.2,986.7 1420.0,940.2 1420.8,989.0 1421.5,939.6 1422.2,989.5 1423.0,939.1 1423.8,990.0 1424.5,938.6 1425.2,990.5 1426.0,938.1 1426.8,990.5 1427.5,937.6 1428.0,992.3 1429.0,936.9 1429.8,987.8 1431.0,926.3 1431.2,987.8 1432.0,935.4 1432.8,987.8 1433.5,929.4 1434.2,987.8 1435.0,927.3 1435.8,987.8"/>
<polyline clip-path="url(#cp)" fill="none" stroke="#ee3f40" stroke-width="8.4" stroke-linejoin="round" stroke-linecap="round" points="121.0,605.1 121.8,642.5 122.5,605.1 123.2,642.3 124.0,605.1 124.8,642.3 125.5,597.1 126.2,642.3 127.0,590.8 127.8,642.3 128.5,588.7 129.2,642.3 130.0,586.6 130.8,642.3 131.5,584.8 132.2,646.0 132.8,580.7 133.8,648.1 134.5,586.6 135.2,648.5 136.0,587.9 136.8,648.9 137.5,588.7 138.2,651.4 139.0,589.6 139.0,656.6 140.5,590.5 141.2,648.9 142.0,591.3 142.8,648.0 143.5,592.0 144.2,647.1 145.0,592.0 145.8,646.2 146.5,592.0 147.2,645.7 148.0,592.0 148.8,645.7 149.5,592.0 150.2,645.7 151.0,591.9 151.8,645.7 152.5,592.1 153.2,645.7 154.2,589.9 154.8,645.9 155.5,598.1 156.2,646.2 157.0,600.9 157.8,646.5 158.5,603.5 159.2,646.8 160.0,606.1 160.8,660.9 161.5,608.7 162.2,663.5 163.0,611.4 163.8,665.0 164.5,614.0 164.8,668.9 166.0,614.9 166.8,660.8 167.5,614.9 168.2,658.6 169.0,614.9 169.8,657.1 170.5,614.9 171.2,656.8 172.0,614.9 172.8,656.4 173.5,613.9 174.2,656.0 175.0,612.8 175.8,648.0 176.5,611.7 177.2,648.0 178.0,611.1 178.8,648.0 179.5,610.5 180.2,648.0 181.0,610.0 181.8,648.0 182.5,609.4 183.2,648.2 184.0,608.8 184.8,648.5 185.5,607.5 186.2,648.9 187.0,613.6 188.2,656.5 188.0,597.3 189.2,651.4 190.0,618.4 190.8,651.4 191.5,618.4 192.2,651.4 193.0,618.4 193.8,651.4 194.5,618.4 195.2,651.4 196.0,618.0 196.8,651.8 197.5,617.6 198.2,652.9 199.0,615.6 199.8,654.1 200.5,610.3 201.2,654.9 202.0,605.1 202.8,655.1 203.5,600.1 204.2,655.2 205.0,596.1 205.8,673.5 206.5,592.1 207.2,661.7 208.0,581.0 208.8,661.7 208.8,563.3 210.2,661.7 211.0,600.3 211.8,658.9 212.5,600.3 213.2,652.9 214.0,600.3 214.8,652.6 215.5,600.3 216.2,652.6 217.0,600.3 217.8,652.6 218.5,588.3 219.2,649.6 220.0,580.7 220.8,634.1 221.5,587.4 222.2,633.8 223.0,587.4 223.8,633.5 224.5,587.4 225.2,633.2 226.0,587.1 226.8,587.1 227.5,544.4 228.2,584.7 229.0,535.4 229.8,584.4 230.5,531.7 231.2,584.1 232.0,530.7 232.8,583.9 233.5,510.6 234.2,583.6 235.2,464.6 235.8,583.6 236.5,485.6 237.2,583.6 238.0,498.3 238.8,583.6 239.5,499.4 240.2,583.6 241.0,525.1 241.8,583.9 242.5,551.5 243.2,584.3 244.0,552.7 244.8,584.7 245.5,562.2 246.2,605.8 247.0,562.9 247.8,614.8 248.5,563.7 249.2,616.8 250.0,564.4 250.8,622.1 251.5,566.5 252.2,623.3 253.0,568.6 253.5,630.6 254.5,570.7 255.2,623.3 256.0,574.5 256.8,623.3 257.5,591.4 258.2,623.3 259.0,593.2 259.8,627.2 260.5,593.2 261.2,638.9 262.0,593.2 262.8,643.9 263.5,593.2 264.2,648.7 265.0,594.8 265.8,652.4 265.8,591.7 267.2,656.2 268.0,619.3 268.8,659.5 269.5,619.3 270.2,659.9 271.0,619.3 271.8,660.2 272.5,619.3 273.2,660.7 274.0,616.3 274.8,663.2 275.0,606.3 276.2,665.7 277.0,628.8 277.8,667.8 278.5,628.8 279.2,669.6 280.0,628.8 280.8,671.4 281.5,628.8 282.2,671.4 283.0,628.8 283.8,671.1 284.5,620.8 285.2,670.9 285.8,608.1 286.8,670.9 287.5,616.3 288.2,670.9 289.0,616.7 289.8,670.9 290.5,617.1 291.2,670.9 292.0,624.2 292.8,673.4 293.5,636.8 294.2,677.2 295.0,636.8 295.8,682.3 296.5,636.8 296.8,685.7 298.0,636.8 298.8,680.8 299.5,636.8 300.2,680.1 301.0,636.7 301.8,680.1 302.5,636.4 303.2,680.1 304.0,636.1 304.8,680.1 305.5,635.9 306.2,680.1 307.0,635.4 307.8,680.4 308.5,634.7 309.2,680.8 310.0,633.9 310.8,681.2 311.8,626.5 312.2,683.4 313.0,640.5 313.8,683.1 314.5,642.3 315.0,690.3 316.0,644.0 316.8,680.1 317.5,648.1 318.2,680.1 319.0,649.1 319.8,680.1 320.5,649.1 321.2,680.1 322.0,649.1 322.8,674.3 323.5,649.1 324.2,671.3 325.0,648.8 325.8,671.3 326.5,642.9 327.2,671.3 328.0,642.9 328.8,671.3 329.8,635.8 330.2,671.3 331.0,649.3 331.8,680.2 332.5,649.3 333.2,690.0 334.0,649.3 334.8,692.7 335.5,649.3 336.2,694.6 337.0,648.2 337.8,693.4 338.5,648.2 338.8,700.2 340.5,642.8 340.8,684.7 341.5,656.4 342.2,684.7 343.0,656.4 343.8,684.7 344.5,656.4 345.2,684.7 346.0,656.4 346.8,684.7 347.5,656.4 348.2,684.7 349.0,656.4 349.8,684.7 350.5,656.4 351.2,684.7 352.0,656.4 352.8,685.1 353.5,647.6 354.2,686.9 355.5,639.9 355.8,688.7 356.5,647.2 357.2,688.7 358.0,647.2 358.8,678.9 359.5,647.2 359.5,692.6 361.0,647.2 361.8,675.5 362.5,647.2 363.2,675.5 364.0,647.2 364.8,675.5 365.5,647.2 366.2,675.5 367.0,647.2 367.8,675.9 368.5,647.2 369.2,676.3 370.0,647.2 370.8,676.7 371.5,645.8 372.2,693.9 373.0,643.8 373.8,694.0 374.5,640.0 375.2,694.0 376.0,648.8 376.8,694.1 377.5,649.8 378.2,694.1 379.0,651.2 379.8,694.2 380.5,654.7 381.2,694.2 382.0,658.2 382.8,694.1 383.5,664.0 384.2,694.0 385.0,667.8 385.8,693.3 386.5,667.8 387.2,686.6 388.0,667.8 388.8,683.8 389.5,667.8 390.2,683.8 391.0,667.8 391.8,683.8 392.5,664.4 393.2,683.8 394.0,659.4 394.8,683.8 395.5,656.2 396.2,687.6 397.0,655.9 397.8,692.1 398.5,655.5 399.2,693.9 400.0,655.2 400.8,694.0 401.5,654.9 402.2,694.1 403.0,654.3 403.8,694.1 404.5,645.9 405.2,693.9 406.0,640.5 406.8,693.7 407.5,641.3 408.2,693.4 408.2,637.6 409.8,693.2 410.5,649.6 411.2,692.9 412.0,655.9 412.8,692.6 413.5,655.9 414.2,692.2 415.0,655.9 415.8,691.8 416.5,655.9 417.2,691.6 418.0,655.9 418.8,691.6 419.5,645.4 420.2,691.6 421.0,647.2 421.8,691.6 422.5,629.0 423.2,691.6 424.0,651.8 424.8,691.9 425.5,651.8 426.2,692.2 427.0,651.8 427.8,692.5 428.5,651.6 429.2,692.9 430.0,650.7 430.8,693.2 431.5,649.8 432.2,693.5 433.0,648.9 433.8,693.9 434.5,648.3 434.5,701.9 436.0,648.3 436.8,694.2 437.5,648.4 438.2,694.2 439.0,648.5 439.8,693.4 440.5,648.6 441.2,692.7 442.0,648.7 442.8,691.9 443.5,648.8 444.2,691.0 445.0,649.0 445.8,689.8 446.5,649.0 447.2,688.7 448.0,649.0 448.8,688.2 449.5,649.0 450.2,688.2 451.0,649.0 451.8,688.2 452.5,649.0 453.2,688.2 454.0,642.7 454.8,685.1 455.5,637.9 456.2,681.2 457.0,637.6 457.8,680.7 458.5,637.3 459.2,680.2 460.0,637.0 460.8,676.4 461.5,623.9 462.2,672.1 463.0,630.6 463.8,672.1 464.5,630.6 465.2,672.1 466.0,630.6 466.8,672.1 467.5,630.6 468.2,672.1 469.0,630.6 469.8,672.2 470.5,630.5 471.2,672.4 472.0,630.4 472.8,671.3 473.5,630.3 474.2,666.8 475.0,630.2 475.8,666.3 476.5,630.1 477.2,666.3 478.0,629.7 478.8,666.3 479.5,622.7 480.2,652.5 481.0,621.4 481.8,652.2 482.5,620.1 483.2,651.8 484.0,603.6 484.8,651.3 485.5,589.3 486.2,629.7 487.0,588.1 487.8,624.7 488.5,587.0 489.2,624.4 490.0,576.9 490.8,624.1 491.5,554.8 492.2,619.0 493.0,551.6 493.8,581.4 494.5,548.4 495.2,581.4 496.0,534.6 496.8,581.4 497.2,533.5 498.2,581.4 499.0,535.1 499.8,581.4 500.5,535.6 501.2,581.9 502.0,541.6 502.8,583.0 503.5,545.2 504.2,589.2 505.0,545.8 505.8,602.3 506.5,559.0 507.2,612.9 508.0,584.9 508.8,617.6 509.5,596.8 510.2,618.6 511.0,597.1 511.8,625.5 512.5,597.4 513.2,634.4 514.0,597.7 514.8,634.9 515.5,606.1 516.2,635.4 517.0,615.3 517.8,635.9 518.5,615.9 519.2,659.3 520.0,616.6 520.8,661.5 521.5,617.3 522.2,662.4 523.0,617.3 523.8,663.3 524.5,617.3 525.2,664.3 526.0,617.3 526.8,666.0 527.5,617.3 528.2,667.8 529.0,617.2 529.8,669.5 530.5,617.0 531.2,671.0 532.0,616.7 532.5,673.1 533.5,616.5 534.2,671.0 535.0,614.0 535.8,671.0 536.5,623.4 537.2,671.0 538.0,627.6 538.8,671.0 539.5,627.6 540.2,671.2 541.0,627.6 541.8,671.4 542.5,627.6 543.2,671.7 544.0,627.6 544.8,671.9 545.5,627.6 546.2,672.5 547.0,627.6 547.8,673.7 548.5,627.6 549.2,674.9 550.0,627.6 550.8,675.5 551.5,618.4 552.5,685.0 553.0,615.0 553.8,666.3 554.5,619.5 555.2,666.3 556.0,626.4 556.8,666.3 557.5,628.6 558.2,666.3 559.0,628.6 559.8,666.3 560.5,628.6 561.2,666.3 562.0,628.6 562.8,666.3 563.5,628.6 564.2,666.3 565.0,625.9 565.8,666.3 566.5,621.4 567.2,666.3 568.0,620.6 568.8,671.2 569.5,619.8 570.2,654.4 571.0,619.1 571.8,653.9 572.5,613.7 573.2,644.8 574.0,593.5 574.8,632.0 575.5,586.9 576.2,632.0 577.0,586.2 577.8,632.0 578.5,585.4 579.2,632.0 580.0,575.6 581.2,634.2 581.5,557.7 582.2,557.7 583.0,538.9 583.8,551.7 584.5,524.8 585.2,551.7 586.0,515.8 586.8,551.7 587.8,502.6 588.2,551.7 589.0,504.4 589.8,551.7 590.5,504.6 591.2,553.2 592.0,505.7 592.8,592.4 593.5,537.9 594.2,609.4 595.0,548.1 595.8,616.8 596.5,578.5 597.2,624.1 598.5,529.1 598.8,641.3 599.5,579.4 600.2,643.3 601.0,596.7 601.8,645.3 602.5,597.2 603.2,649.4 604.0,597.8 604.8,654.0 605.5,598.3 606.2,659.0 607.0,635.7 607.8,668.6 608.5,635.7 609.2,680.6 610.0,635.7 610.8,682.9 611.5,635.7 612.2,685.1 613.0,635.7 613.8,687.2 614.5,635.7 615.2,688.3 616.0,635.7 616.8,689.5 617.5,635.7 618.2,689.6 619.0,632.5 619.8,682.0 620.5,627.6 620.8,699.5 622.0,626.8 622.8,678.1 623.5,626.1 624.2,666.1 625.0,625.3 625.8,665.3 626.5,617.0 627.2,664.6 628.0,607.8 628.8,660.6 629.5,600.0 630.2,654.5 631.0,599.6 631.8,653.8 632.5,599.2 633.2,653.1 634.0,594.0 634.8,652.6 635.5,582.5 636.2,652.6 637.0,581.8 637.8,652.6 638.5,581.2 639.2,652.6 640.0,580.3 640.2,654.7 641.8,573.7 642.2,633.0 643.0,579.1 643.8,633.0 644.5,583.6 645.2,633.0 646.0,595.6 646.8,633.0 647.5,606.4 648.2,633.0 649.0,611.5 649.8,633.0 650.5,611.5 651.2,639.3 652.0,611.5 652.8,649.3 653.5,611.5 654.2,649.6 655.0,611.5 655.8,649.9 656.5,611.0 657.2,651.1 658.2,608.6 658.8,652.6 659.5,610.4 659.8,668.9 661.0,610.4 661.8,652.6 662.5,610.4 663.2,652.6 664.0,610.4 664.8,652.6 665.5,610.4 666.2,652.8 667.0,602.4 667.8,656.5 668.5,612.6 669.2,671.0 670.0,621.1 670.8,671.2 671.5,629.6 672.2,671.1 673.0,632.1 673.8,671.0 674.5,632.1 675.2,671.0 676.0,632.1 676.8,671.0 677.5,632.1 678.2,671.0 679.0,632.1 679.8,671.0 680.5,627.6 681.2,673.2 681.8,621.6 682.8,675.6 683.5,634.6 684.2,675.7 685.0,635.3 685.8,675.8 686.5,635.7 687.2,675.5 688.0,635.7 688.8,674.3 689.5,635.7 690.2,673.1 691.0,635.7 691.8,670.1 692.5,635.7 693.2,657.9 694.0,607.6 694.8,657.2 695.5,606.1 696.2,657.2 696.8,589.9 697.8,657.2 698.5,596.3 699.2,657.2 700.0,601.9 700.8,657.2 701.5,608.7 702.2,657.2 703.0,609.9 703.8,657.2 704.5,611.0 705.2,658.8 706.0,620.1 706.8,661.3 707.5,638.5 708.2,668.2 709.0,655.3 709.8,682.5 710.5,655.6 711.2,690.3 712.0,655.9 712.8,696.9 713.5,656.2 714.2,703.5 715.0,656.3 715.8,710.0 716.5,656.3 717.2,710.6 718.0,656.3 718.8,711.2 719.5,656.3 720.2,711.8 721.0,656.3 721.8,712.7 722.5,654.9 723.2,714.7 724.0,652.8 724.8,716.7 725.5,650.7 726.5,728.2 727.0,648.6 727.8,720.1 728.5,648.1 729.2,719.9 730.0,647.9 730.8,719.7 731.5,647.6 732.2,719.5 733.0,647.4 733.8,719.3 734.5,646.4 735.2,718.4 736.5,640.0 736.8,707.2 737.5,654.0 738.2,705.4 739.0,654.0 739.8,705.4 740.5,654.0 741.2,705.4 742.0,654.0 742.8,705.4 743.5,654.0 744.2,705.4 745.0,652.4 745.8,699.9 746.5,649.9 746.8,709.4 748.0,649.0 748.8,693.4 749.5,648.4 750.2,693.1 751.0,647.8 751.8,692.8 752.5,647.0 753.2,692.8 754.0,643.5 754.8,692.8 754.8,630.8 756.2,692.8 757.0,649.3 757.8,692.8 758.5,649.9 759.2,697.7 760.0,650.5 760.0,707.6 761.5,652.2 762.2,693.9 763.0,653.9 763.8,692.6 764.5,653.9 765.2,692.4 766.0,653.9 766.8,692.2 767.5,653.9 768.2,692.2 769.0,653.9 769.8,692.2 770.5,649.9 771.2,692.2 772.0,642.0 772.8,692.2 773.5,634.0 774.2,692.5 775.0,656.2 775.8,693.0 776.5,657.3 777.2,701.0 778.0,658.4 778.8,715.6 779.5,660.5 780.2,699.8 781.0,665.8 781.5,723.1 782.5,667.2 783.2,698.5 784.0,667.2 784.8,698.2 785.5,667.2 786.2,697.3 787.0,667.2 787.8,692.8 788.5,667.2 789.2,691.1 790.0,665.4 790.8,691.1 791.5,663.6 792.2,691.1 793.0,661.8 793.8,691.1 794.5,658.8 795.2,691.1 796.0,651.3 796.8,691.4 797.5,647.6 798.2,691.7 799.0,645.8 799.8,692.0 800.5,644.8 801.2,692.7 802.5,642.2 802.8,696.4 803.5,647.8 804.2,698.1 805.0,647.8 805.8,698.4 806.5,647.8 807.2,698.7 808.0,647.8 808.8,699.0 809.5,647.8 810.2,700.3 811.0,645.0 811.8,701.5 812.5,645.0 813.2,701.3 814.0,639.9 814.8,704.3 815.5,653.5 816.2,695.7 817.0,653.5 817.8,695.7 818.5,653.5 819.2,695.7 820.0,653.5 820.8,695.7 821.5,653.5 822.2,695.4 823.0,653.5 823.8,694.8 824.5,653.5 825.2,694.2 826.0,653.5 826.8,693.6 827.5,653.5 828.2,693.4 829.0,653.5 829.8,693.4 830.5,653.5 831.2,693.4 832.0,646.1 832.8,693.4 833.5,637.6 834.2,693.4 835.0,648.0 835.8,694.7 836.5,648.3 837.2,696.2 838.0,648.6 838.8,697.7 839.5,648.8 840.8,700.1 841.0,649.9 841.8,696.2 842.5,651.4 843.2,694.3 844.0,652.5 844.8,692.2 845.5,652.9 846.2,692.2 847.0,653.3 847.8,692.2 848.5,654.4 849.2,692.2 850.0,657.4 850.8,692.2 851.5,657.9 852.2,692.2 853.0,657.9 853.8,692.2 854.5,657.9 855.2,692.2 856.0,657.9 856.8,692.2 857.5,657.7 858.2,692.2 859.0,653.2 859.8,692.2 860.5,648.7 861.2,692.2 862.0,647.5 862.8,692.2 863.5,647.2 864.2,692.2 865.0,646.8 865.8,696.2 866.5,646.5 867.8,702.0 868.0,646.2 868.8,690.6 869.5,645.8 870.2,687.0 871.0,645.5 871.8,683.4 872.5,635.7 873.2,679.8 874.0,633.6 874.8,671.0 875.5,633.2 876.2,665.7 877.0,632.7 877.8,665.5 878.5,623.0 879.2,665.3 880.0,623.0 880.8,665.1 880.8,616.9 882.2,664.9 883.0,625.5 883.8,664.7 884.5,636.8 885.2,664.7 886.0,640.9 886.8,664.7 887.5,640.9 888.2,664.7 889.0,640.9 889.8,664.7 890.5,640.9 891.2,679.3 892.0,641.4 892.8,692.6 893.5,648.9 893.8,694.5 894.8,639.8 895.8,692.2 896.5,648.9 897.2,692.2 898.0,648.9 898.8,692.2 899.5,648.9 900.2,692.2 901.0,652.7 901.8,692.2 902.5,655.8 903.2,692.2 904.0,655.8 904.8,692.1 905.5,655.8 906.2,691.8 907.0,655.8 907.8,691.5 908.5,655.8 909.2,691.2 910.0,655.8 910.8,690.9 911.5,655.8 912.2,690.6 913.0,655.8 913.8,690.3 914.5,655.8 915.2,690.0 916.0,655.8 916.8,689.9 917.2,652.5 918.2,689.9 919.0,659.6 919.8,689.9 920.5,661.4 921.2,689.9 922.0,661.4 922.8,689.9 923.5,661.4 924.2,690.3 925.0,661.4 925.8,690.7 926.0,658.7 927.2,691.0 928.0,663.8 928.8,693.7 929.5,663.8 930.2,696.7 931.0,663.8 931.8,699.7 932.5,663.8 933.2,702.7 934.0,663.8 934.8,705.5 935.5,663.7 936.2,707.8 937.0,663.4 937.8,710.0 938.5,663.2 939.2,712.3 940.0,662.9 940.8,714.5 941.5,662.1 942.2,716.8 943.0,659.1 943.8,719.0 944.5,657.8 945.2,721.3 946.0,657.3 946.8,723.5 947.5,656.2 948.2,723.5 949.0,647.2 949.8,713.5 950.5,658.7 950.5,726.5 952.0,658.9 952.8,706.4 953.5,659.1 954.2,704.5 955.0,660.7 955.8,703.9 956.5,678.5 957.2,703.9 958.0,681.0 958.8,703.9 959.5,681.0 960.2,703.9 961.0,681.0 961.8,703.9 962.5,681.0 963.2,713.3 964.0,680.6 964.8,714.5 965.5,677.9 966.8,720.8 967.0,675.3 967.8,708.6 968.5,666.6 969.2,708.6 970.0,653.6 970.8,708.6 971.5,651.9 972.2,708.6 973.5,643.3 973.8,711.3 974.5,656.6 975.2,713.0 976.0,659.8 977.2,717.4 977.5,668.5 978.2,710.6 979.0,668.8 979.8,710.6 980.5,669.2 981.2,710.6 982.0,669.5 982.8,710.6 983.5,674.9 984.2,710.8 985.0,674.9 985.8,711.3 986.5,674.9 987.2,712.0 988.0,674.9 988.2,718.6 989.5,674.9 990.2,711.8 991.0,673.5 991.8,711.8 992.5,666.8 993.2,711.8 994.0,657.8 994.8,711.8 995.5,649.9 996.2,711.9 997.0,649.0 997.8,712.3 998.5,648.2 999.0,717.3 1000.0,647.6 1000.8,713.8 1001.5,649.3 1002.2,713.5 1003.5,644.9 1003.8,712.4 1004.5,656.3 1005.2,711.3 1006.0,656.3 1006.8,710.2 1007.5,656.3 1008.2,709.4 1009.0,656.3 1009.8,709.1 1010.5,652.7 1011.2,708.9 1012.0,654.1 1012.8,708.6 1013.0,643.3 1014.2,708.4 1015.0,655.8 1015.8,708.3 1016.5,655.8 1017.2,708.3 1018.0,655.8 1018.8,708.3 1019.5,655.8 1020.2,708.3 1021.0,655.4 1021.8,708.3 1022.5,655.0 1023.2,721.2 1024.0,654.6 1024.8,692.2 1025.5,654.3 1026.2,686.7 1027.0,653.9 1027.8,683.0 1028.5,653.5 1029.2,683.0 1030.0,648.0 1030.8,683.0 1031.5,642.5 1032.2,683.0 1033.0,640.7 1033.8,681.6 1034.5,640.4 1035.2,677.4 1036.0,640.1 1036.8,666.3 1037.5,639.8 1038.2,663.0 1039.0,632.4 1039.8,662.4 1040.5,629.2 1041.2,661.8 1042.0,628.8 1042.8,661.2 1043.5,628.5 1044.2,660.6 1045.0,618.2 1045.8,660.1 1046.5,600.5 1047.2,660.1 1048.0,600.2 1048.8,660.1 1049.5,599.9 1050.2,660.1 1051.0,599.6 1051.8,660.1 1052.5,599.5 1053.2,665.9 1054.0,612.0 1055.2,676.0 1055.5,642.0 1056.2,672.7 1057.0,642.0 1057.8,672.7 1058.5,642.0 1059.2,672.7 1060.0,642.0 1060.8,672.7 1061.5,642.0 1062.2,672.8 1063.0,641.7 1063.8,673.2 1064.5,641.4 1065.2,673.6 1066.0,641.0 1066.8,677.6 1067.5,629.9 1068.8,699.6 1069.0,629.2 1069.8,686.4 1070.5,629.0 1071.2,686.2 1072.0,628.8 1072.8,686.1 1073.5,628.7 1074.2,686.0 1075.0,628.6 1075.8,686.0 1076.5,628.7 1077.2,686.0 1078.0,628.8 1078.8,686.0 1079.5,629.0 1080.2,686.0 1081.0,629.1 1082.2,704.2 1082.5,629.2 1083.2,678.3 1084.0,629.3 1084.8,678.0 1085.5,629.4 1086.2,677.7 1087.0,631.0 1087.8,677.4 1088.5,633.0 1089.2,677.3 1090.0,649.3 1090.8,677.3 1091.5,658.7 1092.2,677.3 1093.0,659.4 1093.8,677.3 1094.5,660.2 1095.2,677.9 1096.0,661.9 1096.8,684.9 1097.5,662.7 1098.2,691.9 1099.0,662.7 1099.8,693.4 1100.5,662.7 1101.2,693.4 1102.0,662.7 1102.8,693.4 1103.5,662.7 1104.2,693.6 1105.0,661.6 1105.8,694.0 1106.5,660.8 1107.2,694.4 1108.0,661.8 1108.8,694.9 1109.0,658.7 1110.2,695.3 1111.0,664.9 1111.8,697.0 1112.5,664.9 1113.2,706.8 1114.0,664.9 1114.8,708.7 1115.5,664.9 1116.2,711.6 1117.0,664.4 1117.8,706.1 1118.5,663.2 1119.2,705.2 1120.0,662.2 1120.8,704.3 1121.5,662.2 1122.2,703.7 1123.0,662.2 1123.8,703.7 1124.5,662.2 1125.2,703.7 1126.0,657.0 1126.8,703.7 1127.5,647.3 1128.2,703.7 1128.5,642.1 1129.8,703.8 1130.5,669.8 1131.2,704.0 1132.0,670.2 1132.8,704.2 1133.5,670.5 1134.2,704.4 1135.0,670.9 1135.8,704.6 1136.5,671.3 1137.2,704.8 1138.0,671.7 1138.8,705.0 1139.5,671.9 1140.2,705.3 1141.0,671.9 1141.8,705.6 1142.5,671.9 1143.2,705.9 1144.0,671.9 1144.8,709.3 1145.5,671.9 1146.5,725.4 1147.0,671.5 1147.8,705.3 1148.5,670.9 1149.2,704.7 1150.0,670.3 1150.8,704.1 1151.5,669.7 1152.2,703.6 1153.0,661.8 1153.8,703.4 1155.0,656.3 1155.2,703.3 1156.0,657.8 1156.8,703.1 1157.5,658.7 1158.2,702.9 1159.0,665.4 1159.8,702.7 1160.5,668.6 1161.2,702.6 1162.0,668.7 1162.8,702.6 1163.5,668.9 1164.2,702.6 1165.0,669.1 1165.8,702.6 1166.5,669.3 1167.2,702.6 1168.0,669.5 1168.8,703.9 1169.5,674.7 1170.2,706.0 1171.0,678.7 1171.8,708.1 1172.5,678.7 1173.2,710.2 1174.0,678.7 1174.8,710.9 1175.5,678.7 1176.2,711.3 1177.0,678.7 1177.8,711.6 1178.5,673.8 1179.2,712.4 1180.0,671.0 1181.0,718.9 1182.0,666.3 1182.2,702.4 1183.0,675.4 1183.8,702.2 1184.5,675.6 1185.2,701.9 1186.0,675.7 1186.8,701.7 1187.5,675.9 1188.2,701.4 1189.0,676.1 1189.8,701.1 1190.5,676.2 1191.2,700.7 1192.0,676.4 1192.8,700.3 1193.5,676.5 1194.2,700.3 1195.0,676.5 1195.8,700.3 1196.5,676.5 1197.2,700.3 1198.0,676.5 1198.8,700.3 1199.5,676.5 1200.2,701.4 1201.0,676.3 1201.8,707.2 1202.5,676.0 1202.5,711.2 1204.0,675.7 1204.8,707.2 1205.5,675.4 1206.2,707.2 1207.0,670.9 1207.8,707.2 1208.5,666.7 1209.2,707.2 1210.0,664.9 1210.8,707.2 1211.5,663.1 1212.2,707.2 1213.0,661.3 1213.8,707.2 1214.5,660.2 1215.2,707.2 1216.0,659.8 1216.8,706.5 1217.0,658.6 1218.2,705.3 1219.0,660.3 1219.8,704.1 1220.5,662.6 1221.2,702.9 1222.0,665.0 1222.8,702.1 1223.5,665.0 1224.2,701.5 1225.0,665.0 1225.8,700.8 1226.5,665.0 1227.2,700.2 1228.0,665.0 1228.8,699.5 1229.5,664.6 1230.2,698.9 1231.0,663.7 1231.8,698.1 1232.5,662.8 1233.2,697.4 1234.0,662.0 1234.8,696.6 1235.5,661.1 1236.2,695.9 1237.0,656.6 1237.8,695.1 1238.5,634.4 1239.2,694.4 1239.2,630.2 1240.8,693.6 1241.5,637.6 1242.2,692.9 1243.0,638.2 1243.8,692.1 1244.5,638.9 1245.2,691.4 1246.0,639.6 1246.8,690.6 1247.5,645.8 1248.2,689.1 1249.0,646.2 1249.8,679.3 1250.5,646.2 1251.2,675.0 1252.0,646.2 1252.8,675.0 1253.5,646.2 1254.2,675.0 1255.0,644.9 1255.8,675.0 1256.5,643.4 1257.2,675.0 1257.8,637.6 1258.8,675.0 1259.5,644.2 1260.2,675.0 1261.0,644.2 1261.8,677.9 1262.5,644.2 1263.2,682.9 1264.0,644.2 1264.8,687.6 1265.5,637.9 1266.2,691.3 1267.0,635.2 1267.8,695.1 1267.8,626.0 1269.2,698.2 1270.0,668.5 1271.0,702.4 1271.5,668.5 1272.2,699.6 1273.0,668.5 1273.8,698.6 1274.5,668.5 1275.2,696.3 1276.0,668.5 1276.8,695.7 1277.5,668.5 1278.2,695.7 1279.0,668.5 1279.8,695.7 1280.5,668.5 1281.2,695.7 1282.0,668.5 1282.8,695.7 1283.5,668.5 1284.2,695.7 1285.0,661.5 1285.8,695.7 1286.5,654.0 1287.2,695.7 1287.5,644.5 1288.8,696.6 1289.5,665.6 1290.2,697.6 1291.0,666.3 1291.8,699.7 1292.5,667.1 1293.2,701.7 1294.0,676.6 1294.5,704.3 1295.5,680.9 1296.2,700.4 1297.0,680.9 1297.8,700.4 1298.5,680.9 1299.2,700.4 1300.0,680.9 1300.8,700.4 1301.5,680.9 1302.2,700.4 1303.0,677.4 1303.8,703.9 1304.5,674.9 1305.2,708.4 1306.0,676.0 1307.0,723.1 1307.0,669.8 1308.2,698.0 1309.0,678.7 1309.8,698.0 1310.5,678.7 1311.2,698.0 1312.0,678.7 1312.8,698.0 1313.5,678.7 1314.2,698.2 1315.0,676.5 1315.8,698.7 1316.5,673.9 1317.2,705.9 1318.0,671.3 1318.8,719.0 1319.5,670.4 1320.2,710.3 1321.0,669.9 1321.8,709.7 1322.5,669.4 1323.2,709.1 1324.0,668.9 1324.8,708.6 1325.5,668.6 1326.2,708.0 1326.5,666.2 1327.8,707.4 1328.5,677.2 1329.2,707.2 1330.0,679.7 1330.8,707.2 1331.5,681.0 1332.2,707.2 1333.0,681.0 1333.8,707.2 1334.5,681.0 1335.2,707.2 1336.0,681.0 1336.8,712.5 1337.5,681.0 1338.2,719.0 1338.2,675.5 1339.8,722.2 1340.5,680.9 1341.2,722.5 1342.0,684.9 1342.8,722.8 1343.5,685.5 1344.2,723.1 1345.0,685.5 1345.8,725.0 1346.5,685.5 1347.2,726.2 1348.0,685.5 1348.8,724.6 1349.5,684.7 1349.8,730.0 1351.0,677.2 1351.8,716.3 1352.8,666.2 1353.2,716.3 1354.0,674.5 1354.8,716.3 1355.5,679.2 1356.2,716.3 1357.0,680.2 1357.8,716.3 1358.5,681.2 1359.2,717.0 1360.0,682.7 1360.2,725.5 1361.5,683.4 1362.2,707.4 1363.0,683.4 1363.8,703.6 1364.5,683.4 1365.2,703.3 1366.0,683.4 1366.8,703.1 1367.5,684.5 1368.2,702.8 1368.5,682.3 1369.8,702.6 1370.5,685.7 1371.2,702.6 1372.0,685.7 1372.8,702.6 1373.5,685.7 1374.2,702.6 1375.0,685.7 1375.8,702.6 1376.5,684.5 1377.2,704.8 1378.0,682.1 1378.8,713.8 1379.5,679.7 1380.2,716.7 1381.0,677.3 1381.8,717.2 1382.5,674.4 1383.2,717.7 1384.0,672.4 1384.8,717.9 1385.5,673.1 1386.2,717.7 1386.2,668.6 1387.8,717.6 1388.5,674.0 1389.2,711.0 1390.0,674.0 1390.8,702.9 1391.5,674.0 1392.2,702.9 1393.0,674.0 1393.8,702.9 1394.5,669.0 1395.2,702.9 1396.0,664.0 1396.8,702.9 1397.5,681.1 1398.2,706.7 1399.0,682.6 1399.8,715.7 1400.5,684.1 1401.2,716.6 1402.0,685.6 1402.8,716.8 1403.5,691.5 1404.2,717.1 1405.0,694.7 1405.8,717.3 1406.5,694.7 1407.2,717.4 1408.0,694.7 1409.2,720.9 1409.5,694.7 1410.2,703.2 1411.0,694.7 1411.8,703.2 1412.5,693.3 1413.2,703.2 1414.0,691.3 1414.8,703.2 1415.5,687.6 1416.2,703.2 1417.0,682.0 1417.8,708.3 1418.5,677.5 1419.5,716.6 1420.0,672.0 1420.8,702.7 1421.5,679.2 1422.2,702.7 1423.0,679.7 1423.8,702.7 1424.5,680.2 1425.2,702.7 1426.0,680.7 1426.8,702.7 1427.5,681.8 1428.2,704.2 1429.0,687.4 1429.8,707.2 1430.5,688.0 1431.2,710.2 1432.0,688.0 1432.8,714.0 1433.5,688.0 1434.2,718.5 1435.0,688.0 1435.8,721.5"/>
<polyline clip-path="url(#cp)" fill="none" stroke="#1a6add" stroke-width="8.4" stroke-linejoin="round" stroke-linecap="round" points="121.0,300.5 121.8,325.5 122.5,300.5 123.2,325.5 124.0,300.8 124.8,326.9 125.5,301.5 126.2,334.9 127.0,302.2 127.8,340.6 128.5,302.9 129.2,341.2 130.0,303.4 130.8,341.8 131.5,303.7 132.2,362.2 133.0,303.9 133.8,348.8 134.5,304.2 135.2,361.1 136.0,304.4 136.8,361.1 137.5,304.7 138.2,361.1 139.0,310.0 139.8,361.1 140.5,315.4 141.2,361.1 142.0,320.8 142.8,361.1 143.5,321.2 144.2,361.3 145.0,321.2 145.8,361.7 146.5,321.2 147.2,362.0 148.0,321.2 148.5,373.7 149.5,321.2 150.2,358.8 151.0,321.2 151.8,358.8 152.5,321.2 153.2,358.8 154.2,314.5 154.8,358.8 155.5,320.7 156.2,358.8 157.0,321.2 157.8,358.8 158.5,321.2 159.2,358.8 160.0,321.2 160.8,358.8 161.5,321.2 162.2,358.8 163.0,321.2 163.8,358.8 164.5,320.6 165.2,358.8 166.0,318.6 166.8,358.8 167.5,321.1 168.2,359.1 169.0,321.9 169.8,359.3 170.5,322.7 171.2,359.6 172.0,323.4 172.8,359.8 173.5,323.4 174.2,363.5 175.0,323.4 175.8,368.0 176.5,323.4 177.2,368.5 178.0,323.4 178.8,369.0 179.5,313.7 180.2,369.5 180.5,293.7 181.8,370.0 182.5,312.2 183.2,370.3 184.0,312.5 184.8,370.2 185.5,312.9 186.2,369.7 187.0,313.3 187.8,369.2 188.5,315.4 189.2,368.7 190.0,317.5 190.8,368.2 191.5,319.6 192.2,366.5 193.0,323.9 193.8,363.5 194.5,335.1 195.2,363.4 196.0,338.4 196.8,363.4 197.5,338.4 198.2,363.4 199.0,338.4 199.8,363.4 200.5,338.4 201.2,363.4 202.0,338.4 202.8,363.4 203.5,336.7 204.2,363.4 205.5,289.1 205.8,363.4 206.5,320.1 207.0,370.3 208.0,320.1 208.8,359.8 209.5,320.1 210.2,359.6 211.0,320.1 211.8,359.4 212.5,320.1 213.2,359.2 214.2,293.7 214.8,359.0 215.5,307.2 216.2,358.8 217.0,309.4 217.8,357.8 218.5,309.4 219.2,356.3 220.0,309.4 220.8,354.8 221.5,309.4 222.2,353.9 223.0,309.4 223.8,353.4 224.5,303.8 225.2,351.8 226.0,296.3 226.8,351.8 227.5,288.8 228.2,351.8 228.5,355.2 228.5,335.7 229.1,304.6 230.7,273.4 231.8,242.3 232.4,211.1 232.9,194.0 233.6,191.8 236.7,200.2 239.2,214.3 240.8,242.3 242.4,273.4 243.9,295.2 245.5,302.2 252.2,308.5 253.3,313.9 253.3,363.7 254.0,310.5 254.8,360.4 255.5,352.2 256.2,360.4 257.0,352.2 257.8,360.4 258.5,352.2 259.2,360.6 260.0,352.2 260.8,360.8 261.5,345.6 262.2,361.0 263.0,333.6 263.8,365.2 264.5,321.6 265.2,371.4 265.8,313.2 266.8,371.7 267.5,330.1 268.2,371.9 269.0,330.1 269.8,372.2 270.5,330.1 271.2,372.4 272.0,330.1 273.0,374.8 273.5,330.1 274.2,373.7 274.2,324.7 275.8,373.8 276.5,326.8 277.2,373.7 278.0,325.8 278.8,373.7 279.5,325.8 280.2,373.7 281.0,325.8 281.8,373.7 282.5,325.3 283.2,373.7 284.0,320.3 284.8,376.2 285.5,318.3 286.2,379.2 287.2,313.3 287.8,381.6 288.5,323.7 288.8,383.9 290.0,324.2 290.8,380.4 291.5,324.8 292.2,379.9 293.0,328.3 293.8,379.4 294.5,331.8 295.2,378.9 296.0,333.1 296.8,378.4 297.5,333.7 298.2,378.3 299.0,334.3 299.8,378.3 300.5,334.8 301.2,378.3 302.0,335.4 302.8,378.3 303.5,335.9 304.2,378.3 305.0,336.1 305.8,379.3 306.5,336.1 307.2,380.2 308.0,336.1 308.8,381.2 309.5,336.1 310.2,384.0 311.0,336.1 311.8,382.9 312.5,329.6 313.2,382.9 313.5,323.5 314.8,382.9 315.5,335.9 316.2,382.9 317.0,336.1 317.8,382.9 318.5,336.1 319.2,382.9 320.0,336.1 320.2,389.8 321.5,336.1 322.2,386.9 323.0,336.0 323.8,388.6 324.5,335.7 325.2,388.6 326.0,335.3 326.8,388.6 327.5,335.2 328.2,388.6 328.2,327.0 329.8,389.0 330.5,353.0 331.2,389.4 332.0,353.0 332.8,389.8 333.5,353.0 334.2,391.1 335.0,353.0 335.8,392.6 336.5,351.2 337.2,394.1 338.0,345.9 338.0,396.7 339.5,342.9 340.2,392.7 341.2,338.6 341.8,392.2 342.5,347.4 343.2,392.2 344.0,348.6 344.8,392.2 345.5,348.6 346.2,392.2 347.0,348.6 347.8,392.2 348.5,348.6 349.2,394.2 350.0,348.6 351.0,399.0 351.5,347.0 352.2,394.5 353.0,345.0 353.8,392.1 354.5,344.2 355.2,392.1 356.0,344.2 356.8,392.1 357.5,344.2 358.2,392.1 359.0,342.1 359.8,392.1 360.0,338.5 361.2,392.5 362.0,345.0 362.8,393.4 363.5,346.3 364.2,394.2 365.0,346.3 365.8,395.1 366.5,346.3 367.2,396.0 368.0,346.3 368.8,396.8 369.5,346.3 370.2,397.3 371.5,341.9 371.8,397.8 372.5,347.9 373.2,398.3 374.0,352.9 374.8,398.8 375.5,353.2 376.2,399.0 377.0,353.2 377.8,399.0 378.5,353.2 379.2,399.0 380.0,353.2 380.8,399.0 381.5,352.7 382.2,399.0 383.0,349.7 383.8,400.0 384.5,346.7 385.2,400.6 386.0,343.9 386.8,400.5 387.5,342.4 388.2,400.4 389.0,340.9 389.8,400.3 390.5,339.9 391.2,400.1 392.0,339.5 392.8,399.0 392.8,338.5 394.2,397.8 395.0,349.2 395.8,396.6 396.5,353.3 397.2,395.6 398.0,353.3 398.8,395.6 399.5,353.3 400.2,395.6 401.0,353.3 401.8,395.6 402.5,353.3 403.2,395.6 404.0,351.3 404.8,396.6 405.5,348.3 405.8,401.1 407.5,341.9 407.8,399.7 408.5,344.6 409.2,398.6 410.0,345.6 410.8,396.9 411.5,347.1 412.2,395.5 413.0,347.6 413.8,395.5 414.5,347.6 415.2,395.5 416.0,347.6 416.8,395.5 417.5,347.6 418.2,395.5 419.0,347.6 419.8,395.6 420.5,345.1 421.2,395.7 422.0,342.5 422.8,395.9 423.5,340.7 424.2,396.0 425.0,341.8 425.8,396.0 426.2,338.6 427.2,395.6 428.0,348.5 428.8,394.9 429.5,348.5 430.2,394.3 431.0,348.5 431.8,393.6 432.5,348.5 433.2,392.3 434.0,348.5 434.8,389.5 435.5,347.5 436.2,386.8 437.0,342.2 437.8,386.3 438.5,337.0 439.2,386.3 440.0,328.6 440.8,386.3 441.5,334.9 442.2,386.3 443.0,343.2 443.8,386.4 444.5,345.3 445.2,386.5 446.0,345.3 446.8,386.6 447.5,345.3 448.2,386.0 449.0,345.3 449.8,377.8 450.5,345.3 451.2,375.0 452.0,344.7 452.8,375.0 453.5,344.2 454.2,375.0 455.0,343.6 455.8,375.0 456.5,343.1 457.2,375.0 458.0,342.5 458.8,381.2 459.5,341.9 460.2,383.1 461.0,336.2 461.8,376.1 462.5,331.2 462.5,391.9 464.0,327.4 464.8,376.0 465.5,323.7 466.2,376.0 467.0,319.3 467.8,376.0 468.5,313.8 469.2,376.1 470.0,308.6 470.8,376.2 471.5,308.0 472.2,375.4 473.0,307.4 473.8,363.2 474.5,306.9 475.2,362.6 476.0,306.3 476.8,362.0 477.5,305.8 478.2,361.4 479.0,304.8 479.8,350.6 480.5,303.6 481.2,345.0 482.0,299.7 482.8,345.0 483.5,291.7 484.2,326.6 485.0,280.4 485.8,312.8 486.5,282.5 487.2,312.8 488.0,282.1 488.8,312.8 489.5,282.1 490.2,312.8 491.0,282.1 491.8,312.8 492.5,282.1 493.2,312.9 494.0,242.3 494.8,313.0 495.5,235.0 496.2,313.1 497.0,233.5 497.8,313.2 498.5,233.5 499.2,313.2 500.0,236.8 500.8,313.3 501.5,245.6 502.2,313.4 503.0,246.0 503.8,313.5 504.5,246.3 505.2,313.6 506.0,259.9 506.8,313.7 507.5,273.0 508.2,313.7 509.0,273.0 509.8,313.8 510.5,273.0 511.2,313.9 512.0,273.0 512.8,318.1 513.5,273.6 514.2,336.9 515.0,302.7 515.8,343.2 516.5,302.7 517.2,344.0 518.0,302.7 518.8,344.7 519.5,302.7 520.2,349.2 521.0,302.7 521.0,355.3 522.5,301.7 523.2,347.3 524.0,299.7 524.8,347.3 525.5,294.2 526.2,347.3 527.0,289.7 527.8,347.3 528.5,299.3 529.2,347.3 529.8,286.9 530.8,347.4 531.5,310.9 532.2,347.7 533.0,311.7 533.8,347.9 534.5,312.6 535.2,348.1 536.0,313.4 536.8,348.3 537.5,314.3 538.2,349.1 539.0,315.0 539.8,351.0 540.5,315.8 541.2,352.9 542.0,316.5 542.8,357.3 543.5,332.8 544.2,367.3 545.0,333.6 545.5,377.2 546.5,334.3 547.2,368.0 548.0,334.9 548.8,368.0 549.5,334.9 550.2,368.0 551.0,334.9 551.8,368.0 552.5,334.9 553.2,368.0 554.0,334.9 554.8,368.2 555.5,322.8 556.2,368.6 557.0,310.0 557.8,369.0 558.5,308.5 559.2,369.1 560.5,289.1 560.0,377.2 561.5,295.7 562.2,353.0 563.0,301.7 563.8,353.0 564.5,302.0 565.2,353.0 566.0,302.2 566.8,353.0 567.5,302.5 568.2,353.0 569.0,302.7 569.8,353.0 570.5,302.8 571.2,353.0 572.0,302.8 572.5,358.8 574.4,359.5 576.5,329.7 578.7,303.8 580.6,286.5 582.3,280.7 582.3,243.2 582.6,219.5 583.7,218.9 586.6,221.6 589.8,233.1 590.9,243.2 592.4,251.9 594.5,257.6 595.3,272.1 597.0,286.5 597.9,318.2 600.3,329.7 600.7,351.3 601.3,370.1 602.8,373.7 604.6,358.5 606.1,329.7 608.2,326.8 610.8,326.2 612.6,336.9 612.8,358.5 613.7,371.5 615.4,370.8 617.2,358.5 618.0,329.7 618.6,322.5 621.9,322.2 623.4,336.9 624.4,355.6 626.2,356.7 629.1,344.1 630.6,329.7 631.6,315.3 632.7,307.4 637.1,300.9 638.5,299.4 638.8,276.4 639.9,257.6 640.5,250.2 641.4,257.6 643.5,272.1 646.4,278.5 646.9,306.6 651.5,311.7 652.9,323.9 655.1,344.1 658.0,351.3 659.4,361.4 663.7,364.3 665.9,358.5 666.6,336.9 668.0,336.2 669.5,344.1 672.4,355.6 678.9,364.3 681.7,362.9 681.0,322.5 682.0,322.2 684.6,332.6 687.5,348.4 688.9,360.0 691.8,357.1 694.7,348.4 697.6,338.4 699.3,329.7 699.7,309.5 701.9,305.2 704.1,305.2 705.1,312.4 705.5,336.9 707.0,347.0 709.1,357.1 711.0,345.3 711.8,381.7 712.5,345.3 713.2,381.7 714.0,345.3 714.8,381.7 715.5,345.3 716.2,382.0 717.0,346.2 717.8,382.8 718.5,347.1 719.0,405.7 720.0,348.0 720.8,392.1 721.5,349.1 722.2,401.6 723.0,352.1 723.8,400.1 724.5,355.1 725.2,400.1 726.0,360.4 726.8,400.1 727.5,364.4 728.2,400.1 729.0,364.4 729.8,400.1 730.5,364.4 731.2,400.2 732.0,364.4 732.8,400.2 733.5,364.4 734.2,400.3 735.0,361.9 735.8,400.4 736.5,356.9 737.2,400.5 738.0,352.9 738.8,400.6 739.5,351.4 740.2,400.7 741.0,351.4 741.8,400.7 742.8,347.8 743.2,400.8 744.0,359.1 744.8,400.9 745.5,361.1 746.2,401.0 747.0,362.5 747.8,401.1 748.5,362.5 749.2,401.2 750.0,362.5 750.8,401.2 751.5,362.5 752.2,402.5 753.0,362.5 754.0,409.2 754.5,362.4 755.2,404.7 756.0,362.0 756.8,396.8 757.5,361.6 758.2,395.6 759.0,360.9 759.8,395.6 760.5,360.2 761.2,395.6 762.0,361.1 762.8,395.6 763.0,358.2 764.2,395.7 765.0,364.6 765.0,398.9 766.5,364.6 767.2,395.8 768.0,364.6 768.8,395.8 769.5,364.6 770.2,395.8 771.0,364.1 771.8,395.8 772.5,355.1 773.2,395.8 774.0,349.7 774.8,396.8 775.5,347.3 776.2,398.1 777.0,351.3 777.8,399.3 778.5,351.3 779.2,400.6 780.0,351.3 780.8,401.7 781.5,351.3 782.2,402.5 783.0,351.3 783.8,403.2 784.8,347.4 785.2,403.6 786.0,353.6 786.8,401.9 787.5,354.0 787.8,406.0 789.0,354.3 789.8,395.9 790.5,354.6 791.2,395.9 792.0,355.1 792.8,395.9 793.5,357.0 794.2,395.9 795.0,358.8 795.8,395.9 796.5,360.4 797.2,397.9 798.0,360.4 798.8,401.9 799.5,360.4 800.2,402.5 801.0,360.4 801.8,397.7 802.5,360.4 802.5,406.0 804.0,359.7 804.8,391.2 805.8,352.7 806.2,391.2 807.0,359.4 807.8,391.2 808.5,365.4 809.2,391.2 810.0,371.4 810.8,391.5 811.5,377.0 812.2,392.2 813.0,380.0 813.8,393.0 814.5,381.0 815.2,394.5 816.0,381.0 816.8,398.2 817.5,381.0 818.2,401.5 819.0,381.0 819.8,401.5 820.5,381.0 821.0,406.0 822.0,377.0 822.8,396.2 823.5,372.5 824.2,396.2 825.0,368.0 825.8,396.2 826.5,358.5 827.2,396.2 828.0,344.0 828.8,396.3 829.5,355.6 830.2,402.3 831.0,362.4 831.8,405.8 832.5,362.4 833.2,403.9 834.0,362.4 834.0,412.8 835.5,362.4 836.2,395.9 837.0,362.4 837.8,395.9 838.5,360.1 839.2,395.9 840.0,354.1 840.8,395.9 841.5,350.1 842.2,395.9 842.5,344.2 843.8,397.1 844.5,357.7 845.2,398.6 846.0,363.5 846.8,399.2 847.5,367.5 848.5,401.4 849.0,371.5 849.8,396.9 850.5,371.8 851.2,396.9 852.0,371.8 852.8,396.9 853.5,371.8 854.2,396.4 855.0,371.8 855.8,394.5 856.5,370.7 857.2,392.6 858.0,364.2 858.8,391.1 859.5,357.7 860.2,390.7 861.0,356.8 861.8,390.4 862.5,356.5 863.2,389.5 864.0,356.2 864.8,386.5 865.5,355.3 866.2,385.5 867.0,345.5 867.8,385.5 868.5,340.3 869.2,385.5 870.0,339.1 870.8,385.5 871.5,337.8 872.2,385.5 873.0,336.6 873.8,381.9 874.5,335.3 875.2,386.5 876.0,334.7 876.8,379.7 877.5,334.1 878.2,379.7 879.0,333.5 879.8,379.7 880.5,332.5 881.2,379.7 881.5,328.5 882.8,381.0 883.5,333.6 884.2,382.5 885.0,334.6 885.8,384.0 886.5,335.1 887.0,386.5 888.0,335.1 888.8,384.3 889.5,335.1 890.2,384.3 891.0,335.1 891.8,384.3 892.5,335.1 893.2,384.3 894.0,309.6 894.8,384.3 895.5,317.8 896.2,384.3 897.0,333.5 897.8,384.3 898.5,334.5 899.2,384.3 900.0,337.1 900.8,384.3 901.5,343.4 902.2,384.9 903.0,343.7 903.8,385.7 904.5,344.0 905.2,386.4 906.0,344.3 906.8,400.4 907.5,365.2 908.8,410.6 909.0,371.4 909.8,394.7 910.5,371.4 911.2,387.1 912.0,371.4 912.8,378.8 913.5,371.0 914.2,370.0 915.0,370.0 915.8,370.0 916.5,368.8 917.2,368.8 918.0,362.4 918.8,368.5 919.5,358.2 920.2,368.5 921.0,357.9 921.8,368.5 922.5,357.9 923.2,374.5 924.0,358.1 924.8,396.1 925.5,358.7 926.2,405.4 927.0,360.2 927.8,405.9 928.5,361.7 929.2,406.4 930.0,364.2 930.8,406.9 931.5,369.5 932.2,408.1 933.0,372.0 933.8,413.4 934.5,373.5 935.2,415.5 936.0,378.2 936.8,415.8 937.5,387.2 938.2,415.4 939.0,394.7 940.2,417.4 940.5,394.7 941.2,404.1 942.0,394.7 942.8,398.4 943.5,393.5 944.2,393.0 945.0,393.0 945.8,393.0 946.5,393.0 947.2,392.1 948.0,388.4 948.8,391.4 949.5,383.9 950.2,391.4 951.0,380.2 951.8,392.9 952.0,373.3 953.2,404.9 954.0,374.9 954.8,409.8 955.5,374.8 956.2,410.1 957.0,374.8 957.8,410.4 958.5,374.8 959.2,410.7 960.0,374.9 960.0,416.4 961.5,375.8 962.2,407.2 963.0,376.5 963.8,399.7 964.5,376.5 965.2,398.4 966.0,376.5 966.8,398.4 967.5,376.5 968.2,398.4 969.0,376.5 969.8,398.4 970.5,374.6 971.2,399.1 972.0,369.4 972.8,406.0 974.0,363.0 974.8,411.7 975.0,373.4 975.8,401.0 976.5,378.7 977.2,396.5 978.0,378.7 978.8,392.0 979.5,378.7 980.2,391.2 981.0,378.7 981.8,391.2 982.5,378.7 983.2,391.2 984.0,377.2 984.8,391.2 985.5,375.4 986.2,393.0 987.0,373.6 987.8,402.7 988.5,371.4 989.0,408.3 990.0,367.7 990.8,402.7 991.5,367.8 992.2,402.7 992.2,360.7 993.8,402.7 994.5,372.0 995.2,402.7 996.0,372.0 996.8,402.7 997.5,372.0 998.2,402.7 999.0,372.0 999.8,402.7 1000.5,372.0 1001.2,408.2 1002.0,371.9 1002.8,408.2 1003.5,371.7 1004.5,424.4 1005.0,371.6 1005.8,398.4 1006.5,369.1 1007.2,397.3 1008.0,365.3 1008.8,397.0 1009.5,362.5 1010.2,397.0 1011.0,361.4 1011.8,397.0 1012.5,360.3 1013.2,397.0 1013.8,357.2 1014.8,397.0 1015.5,359.4 1016.2,397.1 1017.0,359.4 1017.8,397.3 1018.5,359.4 1019.2,397.3 1020.0,359.4 1020.8,395.0 1021.5,359.4 1022.2,392.0 1023.0,359.1 1023.8,389.0 1024.5,358.7 1025.2,389.0 1026.0,358.3 1026.8,389.0 1027.5,342.1 1028.2,389.0 1029.0,341.5 1029.8,389.0 1030.5,340.9 1031.2,389.9 1032.0,340.3 1032.5,400.7 1033.5,339.9 1034.2,381.2 1034.2,338.1 1035.8,370.7 1036.5,340.7 1037.2,366.0 1038.0,341.3 1038.8,366.0 1039.5,342.0 1040.2,366.0 1041.0,346.1 1041.8,366.0 1042.5,351.3 1043.2,366.0 1044.0,356.6 1044.8,366.6 1045.5,358.2 1046.2,367.3 1047.0,358.2 1047.8,368.1 1048.5,358.2 1049.2,371.9 1050.0,358.2 1050.8,376.4 1051.5,358.2 1052.2,380.9 1053.0,357.7 1053.8,382.3 1054.5,357.2 1055.2,382.7 1056.0,356.7 1056.8,383.0 1057.5,356.2 1058.2,385.7 1059.0,345.8 1059.0,388.9 1060.5,335.3 1061.2,385.5 1062.0,346.4 1062.8,385.5 1063.5,350.2 1064.2,385.5 1065.0,350.2 1065.8,385.5 1066.5,350.2 1067.2,385.5 1068.0,350.2 1068.8,385.6 1069.5,350.2 1070.2,385.8 1071.0,350.0 1071.8,386.0 1072.5,349.8 1073.2,386.2 1074.0,349.5 1074.8,386.4 1075.5,349.3 1076.2,386.5 1077.0,345.5 1078.2,391.2 1078.5,332.0 1079.2,388.3 1080.0,336.3 1080.8,385.3 1081.5,339.6 1082.2,380.2 1083.0,343.0 1083.8,375.2 1084.5,346.4 1085.2,375.2 1086.0,346.6 1086.8,375.2 1087.5,346.6 1088.2,375.2 1089.0,346.6 1089.8,375.2 1091.0,341.2 1091.2,375.4 1092.0,346.6 1092.8,375.9 1093.5,349.9 1094.2,376.4 1095.0,351.9 1095.8,376.9 1096.5,352.5 1097.2,377.4 1098.0,353.0 1098.8,378.3 1099.5,353.5 1100.2,379.3 1101.0,368.0 1102.2,411.9 1102.5,375.7 1103.2,405.0 1104.0,375.9 1104.8,405.0 1105.5,376.2 1106.2,405.0 1107.0,376.5 1107.8,405.0 1108.5,377.9 1109.2,405.0 1110.0,381.0 1110.8,405.0 1111.5,381.0 1112.2,405.3 1113.0,381.0 1113.8,405.5 1114.5,381.0 1115.2,405.8 1116.0,381.0 1116.8,406.0 1117.5,378.6 1118.2,406.6 1119.0,372.9 1119.8,407.4 1120.5,367.2 1120.8,409.5 1122.0,365.3 1122.8,407.3 1123.5,364.2 1124.2,407.3 1125.0,363.1 1125.8,407.3 1126.5,353.3 1127.2,407.3 1127.5,341.9 1128.8,407.3 1129.5,368.5 1130.2,407.3 1131.0,374.4 1131.8,407.3 1132.5,375.5 1133.2,407.3 1134.0,376.6 1134.8,407.3 1135.5,377.7 1136.2,407.3 1137.0,377.7 1137.8,407.3 1138.5,377.7 1139.2,407.3 1140.0,377.7 1140.8,407.3 1141.5,377.7 1142.2,407.6 1143.0,375.3 1143.8,408.1 1144.5,367.1 1145.2,408.6 1146.0,365.1 1146.8,409.1 1147.5,365.1 1148.2,409.6 1149.0,365.1 1149.8,413.2 1150.5,365.0 1151.2,415.5 1152.0,365.0 1152.8,415.9 1153.5,365.0 1154.2,416.2 1155.0,364.9 1155.8,419.6 1156.5,364.9 1157.8,428.9 1158.0,364.9 1158.8,418.4 1159.5,364.8 1160.2,418.1 1161.0,364.8 1161.8,417.7 1162.5,364.8 1163.2,413.2 1164.0,364.7 1164.8,409.7 1165.5,364.7 1166.2,409.7 1167.0,356.8 1167.8,409.7 1167.8,346.5 1169.2,409.7 1170.0,360.6 1170.8,409.7 1171.5,360.6 1172.2,410.0 1173.0,363.3 1173.5,411.9 1174.5,369.3 1175.2,410.1 1176.0,370.6 1176.8,408.6 1177.5,371.5 1178.2,408.6 1179.0,372.4 1179.8,408.6 1180.5,373.1 1181.2,408.6 1182.0,373.1 1182.8,408.6 1183.5,373.1 1184.2,409.5 1185.0,373.1 1185.8,415.3 1186.5,373.1 1187.2,407.3 1188.0,365.3 1188.8,406.9 1189.8,353.4 1190.2,406.4 1191.0,363.0 1191.8,406.0 1192.5,363.3 1193.2,405.6 1194.0,363.6 1194.8,405.1 1195.5,363.9 1196.2,401.6 1197.0,364.2 1197.8,397.2 1198.5,364.4 1199.2,397.2 1200.0,364.7 1200.8,397.2 1201.5,365.0 1202.2,397.2 1203.0,365.1 1203.8,397.2 1204.5,365.1 1205.2,399.6 1206.0,365.1 1206.8,401.7 1207.5,365.1 1208.2,402.0 1209.0,365.1 1209.8,402.2 1210.5,358.4 1211.2,402.5 1212.5,353.3 1212.8,404.5 1213.5,369.2 1213.8,418.8 1215.0,372.3 1215.8,414.6 1216.5,375.4 1217.2,414.2 1218.0,376.4 1218.8,414.2 1219.5,376.4 1220.2,414.2 1221.0,376.4 1221.8,409.4 1222.5,376.4 1223.2,405.0 1224.0,376.4 1224.8,405.0 1225.5,371.1 1226.2,405.0 1227.0,367.0 1227.8,405.0 1228.5,366.0 1229.2,405.0 1230.0,363.7 1230.8,405.0 1231.5,348.7 1232.2,404.9 1233.0,346.7 1233.8,404.1 1234.5,346.5 1235.2,403.4 1236.0,346.4 1236.8,402.6 1237.5,346.3 1238.2,401.9 1239.0,346.2 1239.8,401.1 1240.5,346.1 1241.2,400.4 1242.0,345.9 1242.8,399.6 1243.5,345.8 1244.2,399.2 1245.0,345.7 1245.8,399.1 1246.5,345.5 1247.2,399.0 1248.0,345.3 1248.8,398.9 1249.5,345.0 1250.2,398.7 1251.0,344.8 1251.8,398.6 1252.5,344.5 1253.2,398.6 1254.0,339.1 1254.8,398.6 1255.8,329.0 1256.2,398.6 1257.0,342.8 1257.8,398.6 1258.5,343.3 1259.2,398.6 1260.0,343.8 1260.8,399.0 1261.5,344.3 1262.2,399.6 1263.0,355.4 1263.8,400.2 1264.5,357.0 1265.2,402.3 1266.0,358.2 1266.8,405.0 1267.5,359.3 1268.2,405.5 1269.0,359.3 1269.8,407.2 1270.5,359.3 1271.2,404.8 1272.0,359.3 1272.8,402.8 1273.5,359.3 1274.2,400.8 1275.0,359.0 1275.8,400.4 1276.8,353.4 1277.2,400.4 1278.0,365.9 1278.8,400.4 1279.5,366.9 1280.2,400.4 1281.0,374.6 1281.8,400.4 1282.5,378.9 1283.2,400.8 1284.0,378.9 1284.8,401.2 1285.5,378.9 1286.8,416.5 1287.0,378.9 1287.8,407.1 1288.5,378.9 1289.2,406.9 1290.0,377.4 1290.8,406.6 1291.5,375.9 1292.2,406.3 1293.0,374.4 1293.8,406.1 1294.5,373.1 1295.2,406.1 1296.0,372.6 1296.8,406.1 1297.5,372.1 1298.2,406.1 1299.0,371.6 1299.8,406.1 1300.5,371.4 1301.2,406.1 1302.0,376.2 1302.8,406.1 1303.5,369.9 1304.2,406.1 1305.0,381.2 1305.8,406.1 1306.5,381.2 1307.2,407.2 1308.0,381.2 1308.8,411.0 1309.5,381.2 1310.2,412.1 1311.0,380.9 1311.8,412.4 1312.5,379.4 1313.2,412.7 1314.0,380.4 1314.8,413.0 1315.5,380.7 1316.2,413.3 1317.0,380.7 1317.8,413.6 1318.5,380.7 1319.2,413.9 1320.0,380.7 1320.8,414.3 1321.5,380.7 1322.2,415.0 1323.0,380.7 1323.8,415.3 1324.5,380.1 1325.2,415.3 1326.0,379.5 1326.8,415.3 1327.5,378.8 1328.2,415.3 1329.0,375.1 1329.8,415.3 1330.5,370.4 1331.2,415.3 1332.0,379.4 1332.8,415.3 1333.5,379.4 1334.2,415.3 1335.0,379.4 1335.8,415.3 1336.5,379.4 1337.2,415.3 1338.0,379.4 1338.8,415.3 1339.5,379.4 1340.2,415.3 1341.0,379.4 1341.8,415.3 1342.5,379.4 1343.2,415.3 1344.0,379.4 1344.8,415.3 1345.5,379.5 1346.2,415.3 1347.0,379.7 1347.8,415.4 1348.5,379.9 1349.2,415.7 1350.0,380.1 1350.8,415.9 1351.5,380.3 1352.2,416.2 1353.0,380.5 1353.8,416.4 1354.5,380.7 1355.2,418.5 1356.0,380.9 1356.8,419.9 1357.5,381.1 1358.2,419.9 1359.0,383.4 1359.8,419.9 1360.5,388.6 1361.2,419.9 1362.0,389.5 1362.2,422.1 1363.5,389.8 1364.2,413.1 1365.0,390.1 1365.8,413.1 1366.5,390.4 1367.2,413.1 1368.0,390.4 1368.8,413.1 1369.5,390.4 1370.2,413.1 1371.0,390.4 1371.8,413.3 1372.5,390.4 1373.2,414.1 1374.0,388.4 1374.8,414.8 1375.5,383.2 1376.2,415.6 1377.0,382.3 1377.8,416.3 1378.5,382.2 1379.2,422.2 1380.0,382.2 1380.8,431.3 1381.5,385.3 1382.2,422.2 1383.0,388.5 1383.8,422.2 1384.5,389.7 1385.2,422.2 1386.0,390.9 1386.8,422.2 1387.5,392.1 1388.2,422.3 1389.0,392.7 1389.8,422.5 1390.5,392.7 1391.2,422.6 1392.0,392.7 1392.8,422.8 1393.5,392.7 1394.2,422.9 1395.0,392.7 1395.8,423.1 1396.5,392.7 1397.2,423.2 1398.0,392.7 1398.8,423.4 1399.5,392.7 1400.2,425.7 1401.0,390.4 1401.8,426.8 1403.0,384.2 1403.2,426.8 1404.0,394.8 1404.8,426.8 1405.5,394.8 1406.2,425.0 1407.0,394.8 1407.8,421.5 1408.5,394.8 1409.2,418.7 1410.0,394.8 1410.8,418.5 1411.5,391.5 1412.2,418.2 1413.0,387.5 1413.8,418.0 1414.5,385.8 1415.2,417.7 1416.0,385.8 1416.8,409.3 1417.5,385.8 1418.2,407.4 1419.0,385.8 1419.8,407.4 1420.5,385.8 1421.2,407.4 1422.0,385.8 1422.8,407.4 1423.5,385.8 1424.2,408.0 1425.0,385.8 1425.8,412.0 1426.5,385.8 1427.2,416.0 1428.0,385.8 1428.8,418.0 1429.5,385.8 1430.2,419.8 1431.0,385.8 1431.8,421.5 1432.5,385.8 1433.2,423.3 1434.0,385.8 1434.8,424.5 1435.5,385.8"/>
</svg></body></html>
